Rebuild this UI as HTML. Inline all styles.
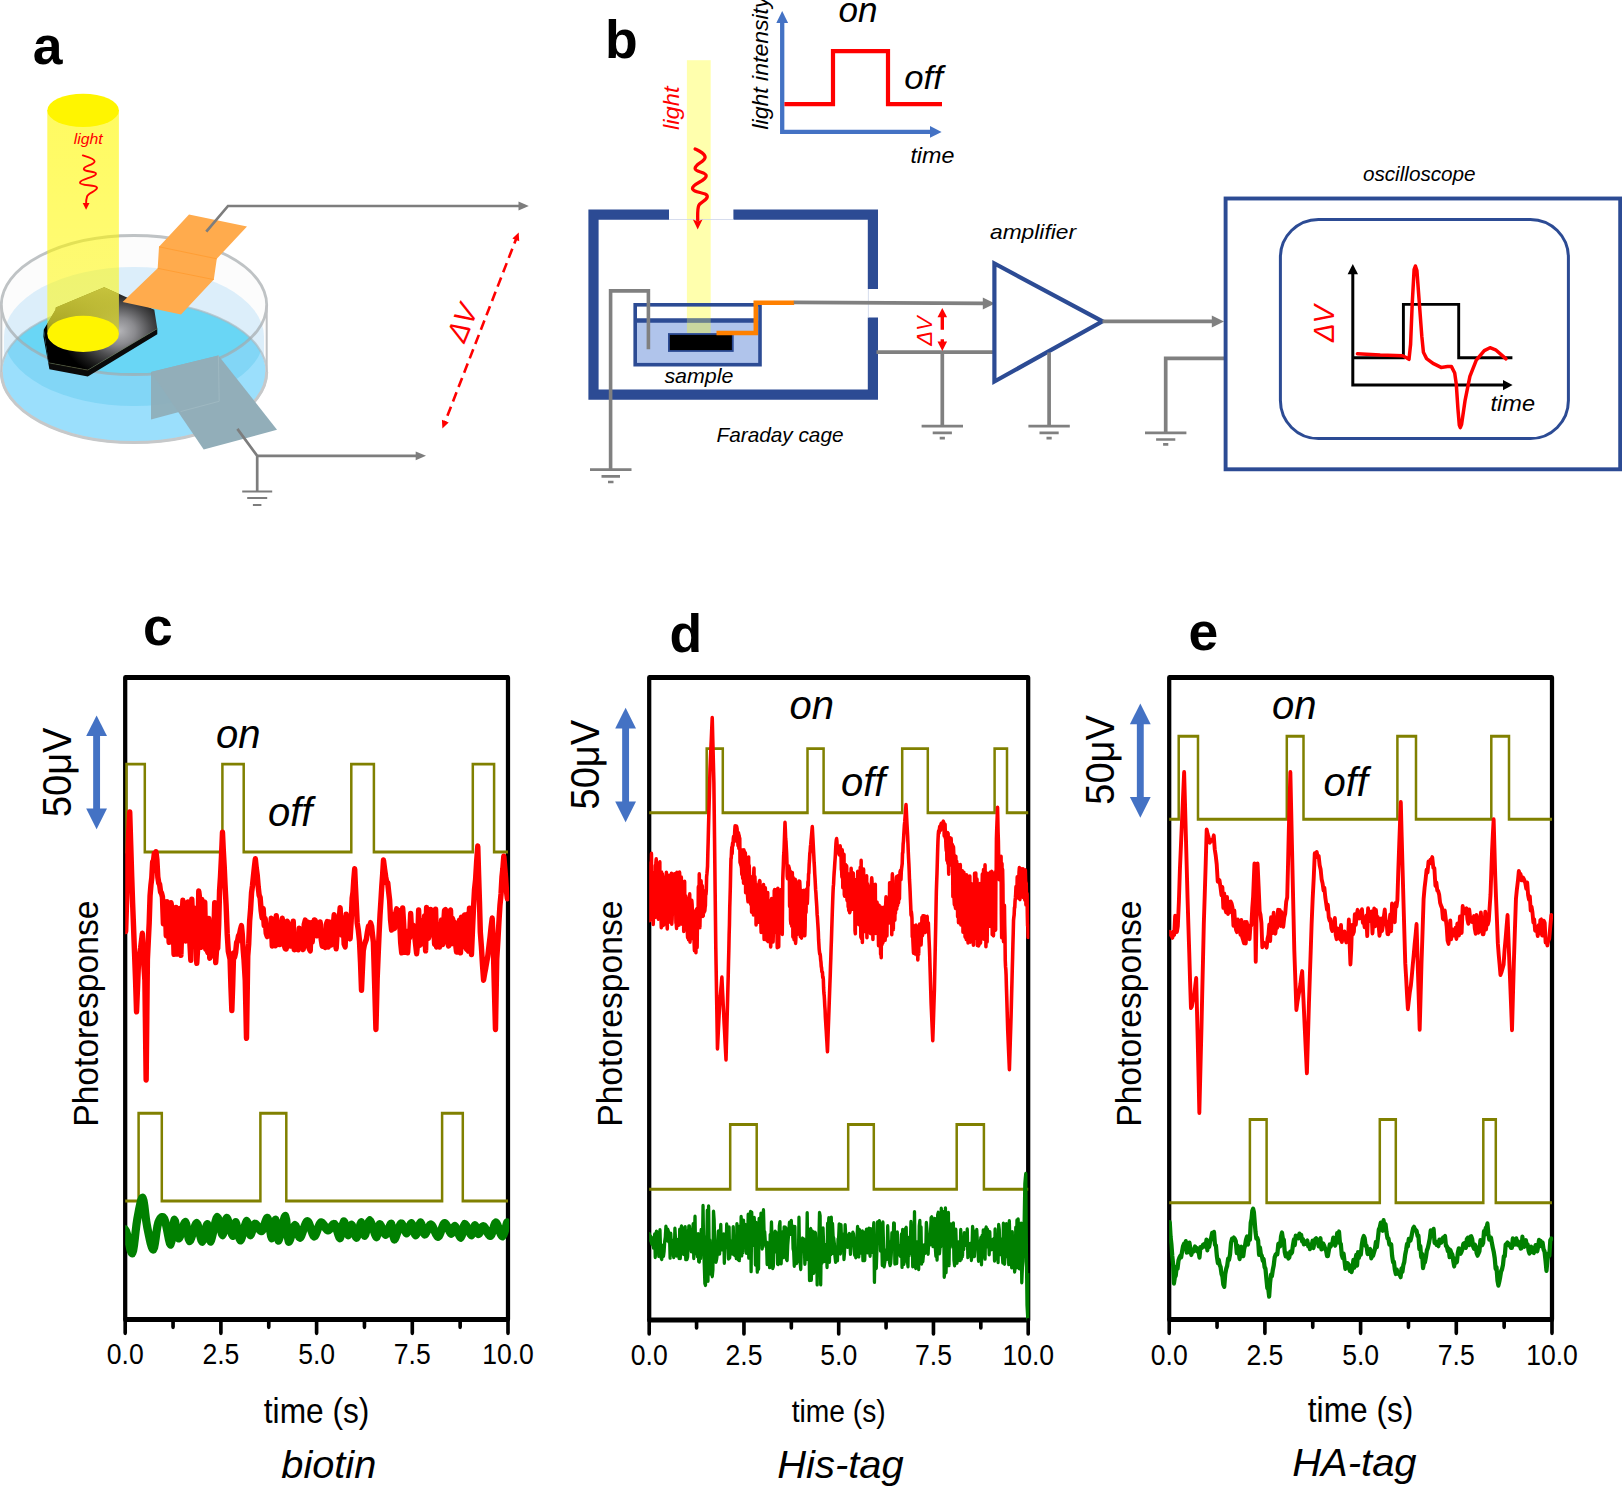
<!DOCTYPE html>
<html lang="en"><head><meta charset="utf-8"><title>Figure</title>
<style>html,body{margin:0;padding:0;background:#fff}svg{display:block}text{font-family:'Liberation Sans', sans-serif}</style></head><body>
<svg width="1622" height="1487" viewBox="0 0 1622 1487">
<rect width="1622" height="1487" fill="#fff"/>
<defs>
<clipPath id="cEt"><ellipse cx="134" cy="305" rx="132.7" ry="69.5"/></clipPath>
<clipPath id="cEb"><ellipse cx="134" cy="372" rx="132.7" ry="70.5"/></clipPath>
<clipPath id="cEl"><ellipse cx="134" cy="336.5" rx="130" ry="69.5"/></clipPath>
<radialGradient id="gNut" gradientUnits="userSpaceOnUse" cx="119" cy="331" r="58" gradientTransform="translate(119 331) scale(1 0.82) translate(-119 -331)"><stop offset="0" stop-color="#b4b4b8"/><stop offset="0.28" stop-color="#8a8a8e"/><stop offset="0.55" stop-color="#4c4c4e"/><stop offset="0.8" stop-color="#1d1d1d"/><stop offset="1" stop-color="#000"/></radialGradient>
<linearGradient id="gBeam" x1="0" y1="0" x2="0" y2="1"><stop offset="0" stop-color="#fff800" stop-opacity="0.62"/><stop offset="1" stop-color="#fff800" stop-opacity="0.52"/></linearGradient>
<clipPath id="cBeam"><rect x="47.3" y="280" width="71.6" height="54"/></clipPath>
<linearGradient id="gNutL" gradientUnits="userSpaceOnUse" x1="0" y1="287" x2="0" y2="345"><stop offset="0" stop-color="#8c8c8c" stop-opacity="0.95"/><stop offset="0.6" stop-color="#777" stop-opacity="0.7"/><stop offset="1" stop-color="#555" stop-opacity="0"/></linearGradient>
</defs>
<path d="M1.3 305 A132.7 69.5 0 0 1 266.7 305 V372 A132.7 70.5 0 0 1 1.3 372 Z" fill="#fcfcfc"/>
<path d="M4 336.5 A130 69.5 0 0 1 264 336.5 V372 A130 70.5 0 0 1 4 372 Z" fill="#dceefa"/>
<ellipse cx="134" cy="372" rx="131.7" ry="69.5" fill="#9bdffc"/>
<g clip-path="url(#cEb)"><ellipse cx="134" cy="336.5" rx="130" ry="69.5" fill="#82d6f6"/>
<g clip-path="url(#cEl)"><ellipse cx="134" cy="305" rx="132.7" ry="69.5" fill="#69d6f5"/></g></g>
<ellipse cx="134" cy="372" rx="132.7" ry="70.5" fill="none" stroke="#a9b9c0" stroke-opacity="0.7" stroke-width="2.2"/>
<path d="M1.3 372 A132.7 70.5 0 0 0 266.7 372" fill="none" stroke="#c6c8c9" stroke-width="3"/>
<ellipse cx="134" cy="305" rx="132.7" ry="69.5" fill="none" stroke="#a4a9ac" stroke-opacity="0.7" stroke-width="2.8"/>
<path d="M1.3 305V372 M266.7 305V372" stroke="#bfc1c3" stroke-width="2" fill="none"/>
<polygon points="43.4,336.5 49.4,369.3 87.8,376.6 157.3,334.3 157.3,328.7 87.8,370.1 48.6,362.8 43.8,329.6" fill="#0a0a0a"/>
<polygon points="43.8,329.6 55.5,309.7 55.8,307.6 104.2,287.3 154.3,309.7 157.3,328.7 87.8,370.1 48.6,362.8" fill="url(#gNut)"/>
<polyline points="157.3,328.7 87.8,370.1 48.6,362.8" fill="none" stroke="#6b6a3a" stroke-width="0.5"/>
<g clip-path="url(#cBeam)"><polygon points="43.8,329.6 55.5,309.7 55.8,307.6 104.2,287.3 154.3,309.7 157.3,328.7 87.8,370.1 48.6,362.8" fill="url(#gNutL)"/></g>
<polygon points="189,214.6 247,226.5 216.8,258.8 213.8,279.6 181,314.5 122.6,302 157.7,268.3 159,246.8" fill="#ffab4d"/>
<path d="M159 246.8L216.8 258.8M157.7 268.3L213.8 279.6" stroke="#ff9a2e" stroke-width="0.8" fill="none"/>
<rect x="47.3" y="110" width="71.6" height="224" fill="url(#gBeam)"/>
<ellipse cx="83.1" cy="110.4" rx="35.8" ry="16.7" fill="#fff500"/>
<ellipse cx="83.1" cy="333.9" rx="35.8" ry="18.1" fill="#fff500"/>
<polygon points="151,371.9 218.4,355.5 219.2,401.3 151,419.4" fill="#8fadb8" fill-opacity="0.93"/>
<polygon points="151,372 218.4,355.5 277,429.7 203.7,449.6" fill="#92aeb9"/>
<polyline points="218.4,355.5 219.2,401.3 180.5,411.6" fill="none" stroke="#a3bcc4" stroke-opacity="0.8" stroke-width="0.9"/>
<path d="M206.3 231.7L228 206H521" stroke="#7d7d7d" stroke-width="2.7" fill="none" stroke-linecap="butt" stroke-linejoin="miter"/>
<polygon points="528.8,206 518.5,201.6 518.5,210.4" fill="#7d7d7d"/>
<path d="M237.4 428.9L257.2 455.8H418 M257.2 455.8V491" stroke="#7d7d7d" stroke-width="2.7" fill="none" stroke-linecap="butt" stroke-linejoin="miter"/>
<polygon points="426,455.8 415.7,451.4 415.7,460.2" fill="#7d7d7d"/>
<path d="M242.2 491.5H272.2 M247.2 498H267.2 M252.9 505H261.4" stroke="#7d7d7d" stroke-width="2" fill="none"/>
<path d="M516.8 237.2L444.3 423.8" stroke="#ff0000" stroke-width="2.6" stroke-dasharray="9.8 5.6" stroke-dashoffset="3" fill="none"/>
<polygon points="518.7,232.4 519.2,241.2 512.4,238.6" fill="#ff0000"/>
<polygon points="442.4,428.6 441.9,419.8 448.7,422.4" fill="#ff0000"/>
<text transform="translate(464.4,343.9) rotate(-67.5)" font-size="29.5" text-anchor="start" fill="#ff0000" font-style="italic" textLength="37" lengthAdjust="spacingAndGlyphs">ΔV</text>
<text transform="translate(73.7,144.1)" font-size="14.5" text-anchor="start" fill="#ff0000" font-style="italic" textLength="29" lengthAdjust="spacingAndGlyphs">light</text>
<path d="M82.8 155.4C88 157 95 159 94.6 161.6C94 165 83.5 166 83.8 169.1C84 172 96.5 171 96 173.8C95.5 177.5 80 179 80 182.7C80 186 97.5 184.5 97 187.9C96.5 191.5 88.5 192.5 87.1 196.4C86.2 199 86.1 201 86.1 204" stroke="#ff0000" stroke-width="1.9" fill="none" stroke-linecap="round"/>
<polygon points="86.1,209.8 82.7,203 89.5,203" fill="#ff0000"/>
<text transform="translate(32.8,63.8)" font-size="53.5" text-anchor="start" fill="#000" font-weight="bold">a</text>
<text transform="translate(605.1,57.7)" font-size="53.5" text-anchor="start" fill="#000" font-weight="bold">b</text>
<rect x="686.9" y="60.2" width="23.8" height="244" fill="#ffff00" fill-opacity="0.32"/>
<path d="M669 214.6H593.5V394.6H872.9V317.5 M872.9 289V214.6H733.4" stroke="#2c4b94" stroke-width="10.2" fill="none"/>
<path d="M669 219.5H733.4 M868.4 289V317.5" stroke="#cdd4e8" stroke-width="0.8" fill="none"/>
<rect x="635.2" y="304.8" width="124.8" height="59.9" fill="#fff"/>
<rect x="635.2" y="320.5" width="124.8" height="44.2" fill="#b0c4eb"/>
<rect x="686.9" y="304" width="23.8" height="29.5" fill="#ffff00" fill-opacity="0.32"/>
<path d="M635.2 320.5H755" stroke="#2c4b94" stroke-width="4.5"/>
<rect x="686.9" y="318.25" width="23.8" height="4.5" fill="#ffff80" fill-opacity="0.3"/>
<rect x="635.2" y="304.8" width="124.8" height="59.9" fill="none" stroke="#2c4b94" stroke-width="3.6"/>
<rect x="668.9" y="334" width="63.9" height="17" fill="#000" stroke="#2c4b94" stroke-width="1.8"/>
<path d="M648.4 349.3V290.9H610.6V469.4" stroke="#808080" stroke-width="3.6" fill="none" stroke-linecap="butt"/>
<path d="M590 469.6H631.5 M601.5 476.4H620 M608 482H613.5" stroke="#808080" stroke-width="2.6" fill="none"/>
<path d="M716.5 333H755.8V302.8 M753.5 302.8H794.2" stroke="#ff8000" stroke-width="4.5" fill="none"/>
<path d="M793.8 302.4L984 303.3" stroke="#808080" stroke-width="3.7" fill="none"/>
<polygon points="995,303.4 982.8,297.4 982.8,309.4" fill="#808080"/>
<path d="M876.5 352.2H994 M942.3 352.2V426" stroke="#808080" stroke-width="3.7" fill="none"/>
<path d="M921.6 426.1H963 M932.7 432.8H951.9 M939.7 438.1H944.9" stroke="#808080" stroke-width="2.7" fill="none"/>
<path d="M942.3 316V329.7 M942.3 339.2V343" stroke="#ff0000" stroke-width="3.4" fill="none"/>
<polygon points="942.3,308 937.5,317.3 947.1,317.3" fill="#ff0000"/>
<polygon points="942.3,351 937.5,341.6 947.1,341.6" fill="#ff0000"/>
<text transform="translate(932.2,331) rotate(-90)" font-size="22" text-anchor="middle" fill="#ff0000" font-style="italic" textLength="29.4" lengthAdjust="spacingAndGlyphs">ΔV</text>
<text transform="translate(664.4,383.1)" font-size="21" text-anchor="start" fill="#000" font-style="italic" textLength="69" lengthAdjust="spacingAndGlyphs">sample</text>
<text transform="translate(716.5,442.3)" font-size="21" text-anchor="start" fill="#000" font-style="italic" textLength="127" lengthAdjust="spacingAndGlyphs">Faraday cage</text>
<text transform="translate(678.5,130) rotate(-90)" font-size="22" text-anchor="start" fill="#ff0000" font-style="italic" textLength="43.5" lengthAdjust="spacingAndGlyphs">light</text>
<path d="M695.1 148.9C699.5 151 705.3 153.5 705.1 157.4C704.8 162 695 164 695.1 168.5C695.2 172.5 706.3 171.5 706.2 175.9C706 181 692.6 183.5 692.5 188.4C692.5 193 707.5 192 707.3 196.6C707.1 200.5 700.5 201.5 698.8 205.4C697.3 209 697.7 214 697.7 220" stroke="#ff0000" stroke-width="3.3" fill="none" stroke-linecap="round"/>
<polygon points="697.7,229.6 692.9,219.6 697.7,221.4 702.5,219.6" fill="#ff0000"/>
<path d="M782.2 21V131.9H932" stroke="#4472c4" stroke-width="4.3" fill="none"/>
<polygon points="782.2,11 776.3,22.9 788.1,22.9" fill="#4472c4"/>
<polygon points="941.6,131.9 930,126 930,137.8" fill="#4472c4"/>
<path d="M784.4 104.2H833V51.2H888V104.2H942" stroke="#ff0000" stroke-width="4.2" fill="none"/>
<text transform="translate(838.6,21.9)" font-size="35" text-anchor="start" fill="#000" font-style="italic" textLength="39" lengthAdjust="spacingAndGlyphs">on</text>
<text transform="translate(904.3,88.5)" font-size="34" text-anchor="start" fill="#000" font-style="italic" textLength="38.6" lengthAdjust="spacingAndGlyphs">off</text>
<text transform="translate(910.4,163.4)" font-size="21.5" text-anchor="start" fill="#000" font-style="italic" textLength="44" lengthAdjust="spacingAndGlyphs">time</text>
<text transform="translate(767.5,129.5) rotate(-90)" font-size="21.5" text-anchor="start" fill="#000" font-style="italic" textLength="133" lengthAdjust="spacingAndGlyphs">light intensity</text>
<polygon points="994.4,263.5 994.4,381.5 1102.5,321.4" fill="#fff" stroke="#2c4b94" stroke-width="4.2" stroke-linejoin="miter"/>
<text transform="translate(990,239)" font-size="21" text-anchor="start" fill="#000" font-style="italic" textLength="86" lengthAdjust="spacingAndGlyphs">amplifier</text>
<path d="M1102.5 321.4H1214" stroke="#808080" stroke-width="3.7" fill="none"/>
<polygon points="1224,321.4 1211.8,315.4 1211.8,327.4" fill="#808080"/>
<path d="M1049.1 352.5V426" stroke="#808080" stroke-width="3.7" fill="none"/>
<path d="M1028.4 426.1H1069.8 M1039.5 432.8H1058.7 M1046.5 438.1H1051.7" stroke="#808080" stroke-width="2.7" fill="none"/>
<path d="M1225 358.3H1165.7V432.7" stroke="#808080" stroke-width="3.7" fill="none"/>
<path d="M1145 432.8H1186.4 M1156.1 439.5H1175.3 M1163.1 444.4H1168.3" stroke="#808080" stroke-width="2.7" fill="none"/>
<rect x="1225.6" y="198.5" width="394.6" height="270.8" fill="#fff" stroke="#2c4b94" stroke-width="3.9"/>
<rect x="1280.4" y="219.4" width="288" height="219.2" rx="38" ry="38" fill="#fff" stroke="#2c4b94" stroke-width="3"/>
<text transform="translate(1362.9,181.2)" font-size="21" text-anchor="start" fill="#000" font-style="italic" textLength="112.7" lengthAdjust="spacingAndGlyphs">oscilloscope</text>
<path d="M1352.8 273V385.1H1504" stroke="#000" stroke-width="3" fill="none"/>
<polygon points="1352.8,264 1347.6,274.2 1358,274.2" fill="#000"/>
<polygon points="1512.6,385.1 1503,379.9 1503,390.3" fill="#000"/>
<path d="M1352.8 357.8H1403.4V304.4H1458.7V357.8H1512.4" stroke="#000" stroke-width="2.9" fill="none"/>
<polyline points="1357.4,353.8 1380.2,355.1 1402.6,355.7 1406.6,357.8 1409,359.4 1410.6,344.2 1412.2,304.1 1414.1,269.7 1415.4,266 1416.9,270.5 1419.4,304.1 1421.8,336.2 1423.4,352.2 1426.6,358.6 1433,363.4 1441.1,367.4 1447.5,366.6 1451.5,366.6 1454.7,373 1456.3,384.3 1457.9,408.3 1459.3,425.1 1460.3,427.6 1461.6,424.3 1465.1,400.3 1469.9,376.3 1476.3,360.2 1484.3,350.6 1490,347.7 1495.6,349.8 1502,355.4 1506,358.9" fill="none" stroke="#ff0000" stroke-width="3.5" stroke-linejoin="round" stroke-linecap="round"/>
<text transform="translate(1333.5,323.5) rotate(-90)" font-size="29" text-anchor="middle" fill="#ff0000" font-style="italic" textLength="37" lengthAdjust="spacingAndGlyphs">ΔV</text>
<text transform="translate(1490.5,410.8)" font-size="21.5" text-anchor="start" fill="#000" font-style="italic" textLength="44.5" lengthAdjust="spacingAndGlyphs">time</text>
<defs><clipPath id="clc"><rect x="147.29" y="677.5" width="451.76" height="642.9"/></clipPath></defs>
<g transform="scale(0.85,1)">
<rect x="147.29" y="677.5" width="450.35" height="641.9" fill="none" stroke="#000" stroke-width="5" stroke-linejoin="round"/>
<path d="M147.29 852H148.82V764.1H170.35V852H261.65V764.1H286.71V852H413.29V764.1H439.88V852H556.24V764.1H581.29V852H597.65" stroke="#808000" stroke-width="2.95" fill="none" stroke-linejoin="miter"/>
<path d="M147.29 1201H163.06V1113.3H190.35V1201H306.35V1113.3H336.82V1201H520.12V1113.3H544.47V1201H597.65" stroke="#808000" stroke-width="2.95" fill="none" stroke-linejoin="miter"/>
<polyline clip-path="url(#clc)" points="147.85,931 149.04,897.6 150.23,856 151.42,832.6 152.61,812.4 153.8,844.9 154.99,877.4 156.03,903.4 157.07,925.8 158.26,952.6 159.45,979.7 160.64,1011.3 161.83,986.5 163.02,960.3 164.5,953.6 165.49,947.7 166.48,940.6 167.48,933.7 168.37,950 169.26,965.2 170.45,980.2 171.94,1079.5 173.42,959.6 174.46,941.3 175.51,923.1 176.55,895.7 177.59,884.9 178.58,877.8 179.57,862.1 180.56,861.1 181.55,853.7 182.54,860.8 183.53,852.3 184.6,860 185.68,877.1 186.75,882.9 187.82,884.7 188.89,891.8 190,893.2 191.12,897 192.23,923.3 193.35,903.8 194.46,902.8 195.58,935.2 196.69,902.1 197.81,908.7 198.96,941.9 200.12,913 201.28,903.3 202.43,910.6 203.59,917.7 204.75,953.9 205.9,934.1 207.06,908 208.22,953.6 209.37,911.7 210.53,946 211.69,909 212.84,954.9 214,923.1 215.16,900.8 216.31,911.8 217.47,913 218.62,940.5 219.8,908.3 220.97,902.4 222.14,937.5 223.31,941.6 224.48,959.9 225.65,899.6 226.83,925.9 228,908.4 229.17,938.3 230.34,919.7 231.51,962.8 232.68,946.3 233.85,891.4 235.03,899.8 236.2,946.8 237.37,900 238.54,928.9 239.71,916.8 240.88,902.8 242.05,948.7 243.23,948.7 244.4,951.9 245.57,918.9 246.74,957.7 247.91,923.3 249.08,955.6 250.25,941.3 251.43,938.3 252.6,903.2 253.77,962.1 254.94,947.6 256.11,948 257.28,924.9 258.32,890.4 259.37,876.9 260.55,856.7 261.74,832.6 262.74,850.9 263.73,865.7 264.72,884.1 266.01,905.2 267.3,933.7 268.58,951.1 269.62,955.1 270.67,959.1 271.71,987.4 272.75,1010 273.79,984 274.83,953.5 276.02,957 277.21,952.4 278.35,942.8 279.49,941 280.63,935.8 281.77,934.5 282.91,929.6 284.05,926.1 285.04,934.4 286.03,948.9 287.02,959.1 288.51,980.2 290,1037.8 291.48,955.9 292.6,943.7 293.71,920.7 294.83,909.1 295.94,892.7 297.06,885.4 298.17,876.1 299.29,867.1 300.4,859.1 301.52,868.3 302.63,875.2 303.75,886.7 304.86,895.2 306.05,897.6 307.24,910.7 308.43,917.6 309.62,908.8 310.81,925 312,918.9 313.19,933.1 314.38,936.1 315.57,930.7 316.76,934 317.95,933.1 319.14,918.6 320.33,945.6 321.52,932.8 322.71,923.7 323.88,945.4 325.05,916.3 326.23,934.7 327.4,930.4 328.58,944.1 329.75,943.8 330.92,924.8 332.1,918.7 333.27,933.4 334.45,945.2 335.62,948.3 336.79,948.5 337.97,921.6 339.14,923.9 340.31,938.9 341.49,945.5 342.66,924.9 343.84,945.6 345.01,921.8 346.18,949.2 347.36,936.7 348.53,935.2 349.71,941 350.88,949.3 352.05,928.7 353.23,936.6 354.4,941.2 355.57,935.7 356.75,949.1 357.92,924.7 359.1,920.6 360.27,945.2 361.44,932.4 362.62,922.7 363.79,948.4 364.97,950.5 366.14,923.1 367.31,941.6 368.49,928 369.66,920.4 370.83,920.8 372.01,924.4 373.18,935.4 374.36,928.2 375.53,935.2 376.7,922.5 377.88,939.3 379.05,945.8 380.23,945.9 381.4,942.4 382.57,947.1 383.75,925.2 384.92,922 386.09,946.5 387.27,922.4 388.44,922.9 389.62,944.6 390.79,943.3 391.96,927.4 393.14,915.2 394.31,939.6 395.49,948.3 396.66,932.2 397.83,931.9 399.01,919.5 400.18,908.2 401.35,934.2 402.53,934.8 403.7,918.9 404.88,944 406.05,946.5 407.22,914.8 408.4,928.4 409.57,922.9 410.75,931.6 411.92,938.4 413.11,921.3 414.3,898.3 415.29,892.2 416.28,879 417.27,869.2 418.26,887.8 419.25,905.5 420.25,923 421.58,930.3 422.92,941 424.11,962.1 425.3,989.8 426.34,969.8 427.38,950.5 428.57,945.2 429.76,942.1 431,939.3 432.24,932.1 433.48,926.4 434.72,931.1 435.96,923.1 437.2,926.6 438.24,935 439.28,942.3 440.76,984.1 442.25,1029 443.74,978.9 444.85,955.8 445.97,934.2 447.08,915 448.2,899.9 449.19,886 450.18,874.2 451.17,860.4 452.46,869.2 453.75,876.9 455.04,882.8 456.15,883 457.27,892.2 458.38,900.2 459.5,920 460.69,929.6 461.88,920.4 463.07,914.9 464.26,928 465.45,913.8 466.64,909.3 467.83,913.6 469.02,910.9 470.21,921.2 471.39,942.6 472.57,952.4 473.74,908.4 474.91,924.3 476.09,951.9 477.26,931.4 478.43,941.7 479.6,952.2 480.78,936.1 481.95,937.2 483.12,913.9 484.29,931.9 485.47,925.4 486.64,926.2 487.81,935.2 488.99,944.5 490.16,953.3 491.33,942.6 492.5,910.5 493.68,944.9 494.85,921.3 496.02,940.6 497.2,936 498.37,943.7 499.54,916.4 500.71,950.4 501.89,907.9 503.06,917.4 504.23,937.8 505.4,933.4 506.58,909.9 507.75,934 508.92,922.4 510.1,915 511.27,943.7 512.44,909.6 513.61,946.5 514.79,944.8 515.96,925.3 517.13,946.6 518.3,939.8 519.48,920.4 520.65,944 521.82,925.6 523,910.8 524.17,910.1 525.34,935.4 526.51,941.5 527.69,945.5 528.86,915.7 530.03,910.4 531.21,943.4 532.38,918.9 533.55,922.4 534.72,922.8 535.9,942.9 537.07,951.6 538.24,951.5 539.41,947 540.59,920.7 541.76,952.4 542.93,917.7 544.11,923.1 545.28,924.6 546.45,915.5 547.62,947 548.8,948.7 549.97,914.8 551.14,950.6 552.31,908.8 553.49,935 554.66,954 555.85,930.6 557.04,908 558.23,890 559.52,879.6 560.81,861 562.09,846.5 563.09,875.4 564.08,901.5 565.07,932 566.36,946.8 567.65,965 568.93,979.7 570.2,973.3 571.46,967.7 572.73,961.3 573.99,955.4 575.25,946.1 576.52,937.3 577.78,927 579.04,918.5 580.23,940.8 581.42,982.1 582.91,1029 584.4,959.1 585.66,942.1 586.93,922.6 588.19,905.3 589.45,894 590.54,877.1 591.63,868.5 592.72,856.6 593.77,867.1 594.81,877.7 595.85,891 596.89,898.3" fill="none" stroke="#ff0000" stroke-width="6.4" stroke-linejoin="round" stroke-linecap="round"/>
<polyline clip-path="url(#clc)" points="144.08,1230.4 144.79,1230.2 145.8,1229.7 147.04,1229.9 148.43,1231.7 149.33,1234.1 150.33,1237.8 151.41,1242.1 152.52,1246.4 153.63,1250 154.7,1252.3 155.68,1252.6 156.73,1250.1 157.7,1245.1 158.64,1238.6 159.56,1231.5 160.5,1224.8 161.48,1219.3 162.53,1214.5 163.61,1209.6 164.71,1205 165.8,1201.2 166.86,1198.9 167.87,1198.4 168.95,1201 169.94,1206.4 170.91,1213.5 171.93,1220.7 173.09,1226.7 174.03,1230.6 175.06,1234.9 176.13,1239.2 177.23,1243.1 178.32,1246.3 179.36,1248.3 180.34,1248.9 181.38,1247.1 182.33,1243 183.24,1237.6 184.16,1231.8 185.11,1226.6 186.14,1223 187.1,1221.1 188.11,1219.5 189.15,1218.4 190.21,1217.8 191.28,1217.7 192.35,1218.2 193.4,1219.3 194.46,1221.8 195.55,1225.7 196.65,1230.4 197.74,1235.3 198.78,1239.6 199.76,1242.7 200.65,1244 201.94,1240.5 203,1232.6 204,1224.5 205.09,1220.4 206.04,1221.8 206.98,1226 207.97,1231.2 209.05,1235.7 210.27,1237.8 211.15,1237.2 212.12,1235.5 213.15,1233 214.22,1230.2 215.28,1227.3 216.31,1224.8 217.27,1223.2 218.13,1222.6 219.24,1224.6 220.14,1229.1 220.97,1234.3 221.88,1238.6 223.04,1240.5 223.93,1239.8 224.93,1238 226.01,1235.3 227.13,1232.2 228.26,1229 229.37,1226.3 230.43,1224.4 231.41,1223.7 232.59,1225 233.71,1228.2 234.76,1232.4 235.79,1236.5 236.8,1239.7 237.83,1241.1 238.89,1239.9 239.97,1236.9 241.04,1233 242.07,1229 243.04,1225.9 243.92,1224.7 244.93,1227.4 245.71,1233.3 246.54,1238.9 247.71,1241 248.5,1239.7 249.41,1237 250.4,1233.4 251.44,1229.3 252.5,1225.3 253.55,1221.7 254.55,1219 255.48,1217.8 256.64,1218.6 257.75,1221.6 258.82,1225.7 259.85,1229.9 260.85,1233.2 261.81,1234.6 262.86,1232.9 263.8,1228.9 264.71,1224.1 265.68,1220.1 266.79,1218.5 267.71,1219.4 268.74,1221.8 269.83,1224.9 270.93,1228.4 271.99,1231.7 272.96,1234.1 273.8,1235.3 275.18,1232.2 276.18,1225.8 277.39,1222.7 278.33,1224.8 279.36,1229.1 280.46,1234.1 281.64,1238.1 282.88,1239.8 283.86,1238.8 284.92,1236.3 286.04,1232.8 287.17,1229.1 288.26,1225.5 289.28,1222.9 290.19,1221.6 291.46,1223.2 292.5,1227.6 293.47,1232.3 294.55,1234.6 295.49,1233.8 296.44,1231.4 297.44,1228.4 298.54,1225.8 299.78,1224.4 300.67,1224.5 301.64,1225.2 302.67,1226.2 303.74,1227.5 304.83,1228.8 305.9,1229.8 306.94,1230.4 307.91,1230.4 308.98,1229.4 310.03,1227.4 311.06,1224.9 312.06,1222.4 313.02,1220.1 313.94,1218.7 314.82,1218.5 315.94,1220.9 316.96,1225.7 317.92,1231.1 318.84,1235.7 319.76,1237.7 320.9,1235 322.01,1228.9 323.07,1222.9 324.08,1220.3 325.16,1225.7 326.14,1235.2 327.62,1240 328.43,1238.8 329.4,1236 330.47,1232.3 331.6,1228 332.73,1223.8 333.81,1220.1 334.79,1217.5 335.63,1216.6 336.83,1220.3 337.65,1228.4 338.46,1236.7 339.59,1241.2 340.48,1240.8 341.48,1238.9 342.56,1235.9 343.69,1232.5 344.82,1229.3 345.91,1226.8 346.92,1225.7 347.97,1226.4 348.94,1228.5 349.87,1231.4 350.83,1234.3 351.85,1236.5 352.99,1237.1 353.84,1236.5 354.74,1235 355.68,1232.9 356.66,1230.5 357.66,1228 358.66,1225.7 359.65,1223.7 360.63,1222.3 361.58,1221.8 362.61,1222.3 363.64,1223.8 364.66,1226 365.67,1228.6 366.67,1231.2 367.67,1233.5 368.66,1235.1 369.64,1235.8 370.62,1235.4 371.58,1234.1 372.53,1232.2 373.48,1229.9 374.43,1227.6 375.39,1225.6 376.36,1224 377.35,1223.1 378.37,1223.1 379.41,1223.7 380.47,1224.7 381.53,1225.9 382.6,1227.2 383.66,1228.4 384.71,1229.3 385.74,1229.7 386.76,1229.5 387.78,1228.8 388.8,1227.9 389.81,1226.8 390.81,1225.8 391.78,1225 392.73,1224.6 393.64,1224.8 394.82,1226.2 395.96,1228.8 397.06,1231.9 398.12,1234.8 399.11,1236.9 400.05,1237.6 401.26,1235 402.3,1229.8 403.31,1224.6 404.41,1222 405.41,1223 406.48,1226 407.57,1229.8 408.62,1233 409.59,1234.6 410.61,1233.3 411.5,1230 412.42,1226.6 413.52,1225.3 414.41,1226.3 415.39,1228.6 416.43,1231.5 417.49,1234.3 418.53,1236.4 419.52,1237.1 420.67,1235.5 421.8,1232 422.91,1227.9 423.96,1224.5 424.96,1222.9 426.03,1224.7 426.97,1229 427.92,1233.3 429.05,1235.1 429.91,1234 430.83,1231.3 431.79,1227.9 432.81,1224.6 433.89,1222.1 435.02,1221.1 435.95,1221.9 436.96,1223.6 438.04,1226 439.13,1228.8 440.2,1231.6 441.22,1234.1 442.15,1235.9 442.94,1236.7 444.32,1234 445.22,1228.3 446.54,1224.8 447.39,1225.2 448.37,1226.5 449.44,1228.3 450.56,1230.4 451.69,1232.2 452.79,1233.6 453.82,1234.1 454.99,1233.3 456.16,1231.4 457.31,1228.9 458.41,1226.5 459.43,1224.8 460.34,1224.3 461.6,1228.5 462.53,1235.3 463.93,1238.9 464.7,1238.3 465.6,1236.7 466.57,1234.5 467.61,1231.9 468.66,1229.3 469.72,1226.9 470.74,1225.1 471.69,1224.1 472.72,1224.3 473.74,1225.4 474.73,1227.1 475.71,1229 476.66,1230.8 477.58,1232.2 478.48,1232.7 479.67,1231.7 480.8,1229.4 481.88,1226.8 482.94,1224.6 484,1223.8 485.04,1225.1 486.05,1227.9 487.05,1231.1 488.06,1233.7 489.11,1234.7 490.21,1233.5 491.35,1230.6 492.5,1227.2 493.63,1224.3 494.71,1223 495.7,1224.1 496.6,1226.7 497.5,1229.9 498.47,1232.6 499.6,1233.9 500.51,1233.5 501.5,1232.2 502.54,1230.5 503.62,1228.5 504.73,1226.8 505.86,1225.5 507,1225.1 507.91,1225.6 508.84,1226.7 509.8,1228.2 510.78,1230 511.76,1231.8 512.73,1233.5 513.69,1234.9 514.63,1235.9 515.53,1236.2 516.64,1235.4 517.71,1233.7 518.74,1231.3 519.76,1228.7 520.79,1226.3 521.82,1224.5 522.89,1223.7 523.88,1223.9 524.92,1224.9 525.98,1226.3 527.04,1228.1 528.08,1229.8 529.07,1231.4 529.98,1232.6 530.8,1233.2 532.06,1232.3 532.99,1229.9 533.89,1227.5 535.08,1226.6 535.97,1227.4 536.98,1229 538.07,1231.1 539.18,1233.3 540.27,1235.3 541.29,1236.6 542.19,1237.1 543.42,1235.1 544.38,1230.9 545.37,1226.8 546.68,1224.7 547.53,1225 548.51,1226 549.58,1227.6 550.69,1229.4 551.79,1231.3 552.84,1232.9 553.81,1234.1 554.64,1234.6 555.91,1233.3 556.86,1230.3 557.71,1227.3 558.64,1225.8 559.68,1226.9 560.72,1229.5 561.81,1232.1 563,1233.4 563.84,1232.9 564.7,1231.7 565.59,1230 566.54,1228.4 567.57,1227.2 568.69,1226.8 569.62,1227.2 570.65,1228.3 571.73,1229.8 572.85,1231.4 573.98,1233 575.08,1234.3 576.12,1235.1 577.09,1235.3 578.24,1234.2 579.28,1231.9 580.26,1229 581.23,1226.1 582.23,1224 583.33,1223.1 584.23,1223.7 585.18,1225.1 586.16,1227.2 587.16,1229.5 588.16,1231.8 589.13,1233.8 590.06,1235.2 590.92,1235.7 592.25,1234.6 593.56,1231.9 594.76,1228.4 595.76,1225.2 596.49,1223.1" fill="none" stroke="#008000" stroke-width="9.6" stroke-linejoin="round" stroke-linecap="round"/>
</g>
<g transform="scale(0.85,1)">
<path d="M147.29 1319.4V1333M203.59 1319.4V1327M259.88 1319.4V1333M316.18 1319.4V1327M372.47 1319.4V1333M428.76 1319.4V1327M485.06 1319.4V1333M541.35 1319.4V1327M597.65 1319.4V1333" stroke="#000" stroke-width="4.3" fill="none" stroke-linecap="round"/>
</g>
<text transform="translate(125.2,1364.4) scale(0.900,1)" font-size="29.5" text-anchor="middle" fill="#000">0.0</text>
<text transform="translate(220.9,1364.4) scale(0.900,1)" font-size="29.5" text-anchor="middle" fill="#000">2.5</text>
<text transform="translate(316.6,1364.4) scale(0.900,1)" font-size="29.5" text-anchor="middle" fill="#000">5.0</text>
<text transform="translate(412.3,1364.4) scale(0.900,1)" font-size="29.5" text-anchor="middle" fill="#000">7.5</text>
<text transform="translate(508,1364.4) scale(0.900,1)" font-size="29.5" text-anchor="middle" fill="#000">10.0</text>
<text transform="translate(316.6,1423.2) scale(0.885,1)" font-size="35.8" text-anchor="middle" fill="#000">time (s)</text>
<text transform="translate(281.3,1477.8)" font-size="38.5" text-anchor="start" fill="#000" font-style="italic" textLength="95" lengthAdjust="spacingAndGlyphs">biotin</text>
<text transform="translate(143,645)" font-size="53.5" text-anchor="start" fill="#000" font-weight="bold">c</text>
<text transform="translate(98.4,1013.7) rotate(-90) scale(0.934,1)" font-size="36" text-anchor="middle" fill="#000">Photoresponse</text>
<text transform="translate(70.7,772.3) rotate(-90) scale(0.950,1)" font-size="40" text-anchor="middle" fill="#000">50μV</text>
<path d="M96.6 733.4V811.2" stroke="#4472c4" stroke-width="6.9" fill="none"/>
<polygon points="96.6,715.4 86.2,736 107,736" fill="#4472c4"/>
<polygon points="96.6,829.2 86.2,808.6 107,808.6" fill="#4472c4"/>
<text transform="translate(216,748.1)" font-size="40" text-anchor="start" fill="#000" font-style="italic">on</text>
<text transform="translate(268,825.7)" font-size="40" text-anchor="start" fill="#000" font-style="italic">off</text>
<defs><clipPath id="cld"><rect x="763.76" y="677.5" width="447.29" height="643.6"/></clipPath></defs>
<g transform="scale(0.85,1)">
<rect x="763.76" y="677.5" width="445.88" height="642.6" fill="none" stroke="#000" stroke-width="5" stroke-linejoin="round"/>
<path d="M763.76 812.7H831.41V748.6H850.35V812.7H950V748.6H968.94V812.7H1061.41V748.6H1091.53V812.7H1170.12V748.6H1184.71V812.7H1209.65" stroke="#808000" stroke-width="2.95" fill="none" stroke-linejoin="miter"/>
<path d="M763.76 1189.3H859.06V1124.5H890.24V1189.3H997.88V1124.5H1028V1189.3H1125.53V1124.5H1157.53V1189.3H1209.65" stroke="#808000" stroke-width="2.95" fill="none" stroke-linejoin="miter"/>
<polyline clip-path="url(#cld)" points="764.29,920.4 764.64,918.7 764.99,899.1 765.35,893.2 765.7,862.3 766.05,864.3 766.4,853.7 766.75,908.6 767.1,891.9 767.45,874.5 767.81,913.6 768.16,905.7 768.51,924.2 768.86,912.7 769.21,899.5 769.56,872.9 769.91,886.3 770.27,901.6 770.62,905.8 770.97,865.7 771.32,916.9 771.67,862.8 772.02,859.2 772.37,901.2 772.72,876.2 773.08,873.8 773.43,915.6 773.78,872.5 774.13,916.2 774.48,918.8 774.83,900 775.18,904.3 775.54,868.7 775.89,863.3 776.24,862.1 776.59,911.5 776.94,918.5 777.29,900.6 777.64,915.7 777.99,927.4 778.35,872.3 778.7,890.9 779.05,925.8 779.4,874.4 779.75,901 780.1,902.6 780.45,877.2 780.81,924.8 781.16,883.1 781.51,920.7 781.86,913.9 782.21,914.4 782.56,911.2 782.91,881.5 783.26,919.2 783.62,905.1 783.97,872.6 784.32,884.7 784.67,923 785.02,928.6 785.37,907 785.73,880.1 786.08,895.6 786.43,922.2 786.78,888.4 787.14,875.6 787.49,878.7 787.84,877.2 788.19,891.6 788.55,915.8 788.9,915.2 789.25,906.4 789.6,883.9 789.96,873.5 790.31,923.9 790.66,919.7 791.01,909.9 791.37,885.2 791.72,884.3 792.07,886.5 792.42,891.6 792.78,896.5 793.13,882 793.48,874.2 793.83,882.5 794.19,900.6 794.54,895.1 794.89,906.9 795.24,922.9 795.6,922.5 795.95,928.2 796.3,872.7 796.65,883.4 797.01,877.3 797.36,874.9 797.71,890.3 798.06,884.4 798.42,924.9 798.77,878.5 799.12,924.7 799.47,872.3 799.83,877.3 800.18,895.8 800.53,907 800.88,920.5 801.24,908.4 801.59,877.4 801.94,922.5 802.29,893.9 802.64,911.9 802.99,924.2 803.34,891.9 803.69,920.2 804.04,890.6 804.39,931.2 804.74,883.8 805.09,923.8 805.45,881.7 805.8,922.6 806.15,912.2 806.5,900.6 806.85,896.3 807.2,929.2 807.55,903.1 807.9,898.4 808.25,906.4 808.6,931.3 808.95,937.4 809.3,923.3 809.65,923.1 810,939.5 810.35,909.4 810.7,935.3 811.06,908 811.41,894.2 811.76,941.8 812.11,932.1 812.46,905.5 812.81,928.1 813.16,927.9 813.51,925.6 813.86,900.6 814.21,904.1 814.56,911.3 814.91,938.4 815.26,927.9 815.6,914.7 815.95,911.7 816.3,925.1 816.65,943.4 816.99,950.4 817.34,944.7 817.69,949.6 818.04,941.6 818.38,941.2 818.73,952.4 819.08,910.1 819.43,909.4 819.79,944.8 820.15,947.1 820.51,920.6 820.87,921.2 821.23,921.4 821.59,886.9 821.95,917.5 822.31,917.5 822.67,874.2 823.03,906.2 823.39,927.4 823.75,913.6 824.11,902.7 824.47,913.6 824.83,881 825.19,890.5 825.55,901.8 825.91,895.7 826.27,886.2 826.63,911.1 826.99,916.1 827.35,915.6 827.71,894.7 828.07,910.5 828.44,912 828.8,909.1 829.16,910.7 829.52,907.4 829.88,905.4 830.24,890.6 830.6,894.4 830.96,889.8 831.32,876.7 831.68,873.9 832.04,870.3 832.4,866.2 832.76,852.7 833.13,842 833.49,828.7 833.86,816.8 834.22,805.2 834.59,793.2 834.95,780.9 835.32,768.9 835.69,761.6 836.06,754.3 836.43,747.1 836.8,739.8 837.17,732.5 837.54,725.2 837.91,717.9 838.24,728.7 838.56,739.5 838.89,750.3 839.21,761.1 839.53,771.9 839.86,782.7 840.24,810.3 840.62,837.8 840.99,865.4 841.37,893 841.75,920.5 842.13,948.1 842.45,964.9 842.78,981.6 843.1,998.4 843.43,1015.2 843.75,1032 844.07,1048.7 844.45,1042.2 844.82,1035.7 845.19,1029.3 845.56,1022.6 845.93,1016.3 846.3,1010.2 846.67,1003.7 847.04,999 847.41,996.1 847.78,992.5 848.15,988.6 848.52,985.1 848.89,981.1 849.26,977.4 849.64,983.8 850.02,990.8 850.4,996.8 850.78,1004.1 851.16,1009.8 851.53,1016.5 851.9,1023.5 852.28,1028.9 852.65,1035.2 853.02,1041.5 853.39,1047.5 853.76,1053.6 854.13,1059.7 854.5,1047.7 854.87,1035.7 855.24,1023.8 855.61,1011.9 855.98,999.8 856.35,987.6 856.72,976.2 857.08,962.3 857.44,950.5 857.8,934.9 858.16,924.8 858.52,907.7 858.88,897.5 859.25,885.9 859.61,870.7 859.97,858.6 860.31,858 860.66,850.4 861,847.2 861.34,853.3 861.69,844.4 862.03,842.8 862.38,845.3 862.72,838.8 863.07,836.7 863.41,841.5 863.76,836.6 864.1,837 864.45,830.4 864.79,826.1 865.13,826.2 865.48,827.9 865.82,831.7 866.17,833 866.51,826.3 866.85,827.4 867.2,829.1 867.54,841.9 867.88,837.6 868.23,845.5 868.57,832.8 868.91,833.5 869.26,848.2 869.6,835.7 869.94,842.2 870.29,838.4 870.63,862.4 870.97,858.5 871.32,864.4 871.66,854.5 872.01,866.7 872.36,865.8 872.71,874.2 873.05,852.1 873.4,850.3 873.75,877.8 874.1,878.6 874.44,869.9 874.79,882.9 875.14,850 875.49,854.9 875.83,851.8 876.18,876.3 876.53,858.6 876.88,853.1 877.23,892.4 877.58,890 877.93,887.9 878.29,889.4 878.64,862.2 878.99,866.4 879.34,893.3 879.69,898.6 880.04,901.5 880.39,861.5 880.74,857.3 881.09,885.2 881.44,865.7 881.79,878.6 882.14,890.5 882.49,898.3 882.84,902.7 883.19,904.1 883.54,891 883.9,882.8 884.25,911.9 884.6,877.1 884.95,910.1 885.3,903.1 885.65,912.5 886,898.3 886.35,914.7 886.7,874.5 887.05,868.4 887.4,913 887.75,877.5 888.1,876.8 888.45,884.7 888.8,911.9 889.15,885.4 889.51,924.7 889.86,885.1 890.21,886.1 890.56,921 890.91,916.8 891.26,908.8 891.61,911.4 891.96,912.7 892.31,922 892.66,895.1 893.01,883.7 893.36,881.8 893.71,881 894.06,881.4 894.41,916.7 894.76,900 895.12,923.5 895.47,932.1 895.82,928.4 896.17,898.7 896.52,927.2 896.87,888.2 897.22,896.7 897.57,887.8 897.92,889.4 898.27,884.8 898.62,923.2 898.97,939.1 899.32,930.8 899.67,929 900.02,898.6 900.37,888.1 900.72,924.2 901.08,933.4 901.43,901 901.78,899.3 902.13,916 902.48,940.4 902.83,906.3 903.18,892.8 903.53,941.3 903.88,905.8 904.23,935.7 904.58,901 904.93,930.4 905.28,920 905.63,934 905.98,925.7 906.33,928.3 906.69,946.7 907.04,937.6 907.39,906.6 907.74,898.9 908.09,911.1 908.44,919.4 908.79,930.4 909.14,921.4 909.49,941.7 909.84,931.3 910.19,908.2 910.54,932.3 910.89,890.8 911.24,890 911.59,905.4 911.94,912.3 912.3,898.2 912.65,901.2 913,916 913.35,889.9 913.7,911.5 914.05,929.9 914.4,947.4 914.75,940.6 915.1,888.5 915.45,939.2 915.79,944.7 916.14,946.6 916.49,909.4 916.84,923.6 917.18,896.5 917.53,894.9 917.88,892.3 918.23,903.1 918.57,915.4 918.92,889.8 919.27,903.1 919.62,925.7 919.96,892 920.29,934.1 920.61,907.6 920.94,878.3 921.26,870.8 921.59,864.6 921.91,856 922.23,853 922.56,846.1 922.88,838 923.21,830.4 923.53,822.7 923.91,829.4 924.29,838.5 924.67,841.2 925.05,847.6 925.42,853.5 925.8,861.7 926.16,876.2 926.51,878.3 926.86,868.2 927.22,867.9 927.57,871 927.93,866.3 928.28,873.3 928.63,868.4 928.99,906.3 929.34,874.9 929.69,871.3 930.04,919.9 930.39,923.2 930.74,911.7 931.08,909.7 931.43,925.9 931.78,909.3 932.13,872.9 932.47,889.4 932.82,936.8 933.17,877.9 933.52,901.7 933.86,885 934.21,939.6 934.56,914.2 934.91,929.7 935.26,931.7 935.61,879.7 935.96,943.1 936.31,938.6 936.66,922.6 937.01,929.3 937.36,894.9 937.71,909.9 938.07,934.1 938.42,891.2 938.77,887.9 939.12,903.2 939.47,925 939.82,881.4 940.17,885.2 940.52,906.2 940.87,881.6 941.22,888.7 941.57,936.4 941.92,921 942.27,896.9 942.62,927.7 942.97,937.8 943.32,890.8 943.68,894.9 944.03,916.5 944.38,903 944.73,900.5 945.08,895 945.43,894.3 945.78,890.5 946.13,935.3 946.48,905.2 946.83,935.5 947.18,926.9 947.53,905.5 947.9,900.7 948.27,912.3 948.64,894.8 949.01,889.3 949.39,890.6 949.76,903.5 950.13,896 950.5,881.8 950.87,885.4 951.24,874.1 951.61,872.9 951.98,864.4 952.35,860.3 952.72,853.5 953.09,851.8 953.45,846.8 953.82,844.3 954.18,840.5 954.55,837.3 954.91,833.6 955.27,830.2 955.64,826.8 956,832.7 956.36,838.2 956.72,844.1 957.08,850.3 957.44,855.9 957.8,862.5 958.16,867 958.52,873.8 958.88,878.4 959.23,884.3 959.58,890 959.93,893.3 960.27,898.6 960.62,902.7 960.97,907.7 961.32,914.4 961.66,917.3 962.01,922.4 962.36,926.9 962.71,931.7 963.05,939.5 963.4,944.4 963.75,949.3 964.1,951.9 964.44,954.1 964.79,954 965.14,956 965.49,960.1 965.83,962 966.18,966.6 966.53,967.7 966.87,971.3 967.22,972.1 967.57,972.2 967.92,977.4 968.26,976.8 968.61,979.3 968.96,988 969.31,993.1 969.65,995.6 970,1000.1 970.35,1006.1 970.7,1010.1 971.04,1017.4 971.39,1021.9 971.74,1027.1 972.09,1031.3 972.43,1036.6 972.78,1041.3 973.13,1046.5 973.48,1051.5 973.84,1043.1 974.2,1034.6 974.56,1026.2 974.92,1017.9 975.28,1009.3 975.64,1000.7 976,992.2 976.36,983.7 976.72,976 977.08,966 977.44,957.9 977.8,947.7 978.16,939.6 978.52,929.6 978.88,920.1 979.24,910.7 979.6,902.1 979.96,893.7 980.32,886.9 980.67,884.2 981.02,877.5 981.38,872.5 981.73,868.6 982.09,863.5 982.44,859.4 982.79,855 983.15,849 983.5,843.5 983.86,840.3 984.21,838.9 984.56,841 984.91,846.3 985.26,846.4 985.61,849.8 985.96,850.4 986.31,851.6 986.67,846.9 987.02,853.5 987.37,854.5 987.72,852.5 988.07,850.7 988.42,846 988.77,848.4 989.11,854.2 989.46,856.3 989.81,869.5 990.16,870.4 990.5,876.8 990.85,850.1 991.2,860.6 991.55,887.5 991.89,874.1 992.24,879.4 992.59,856.5 992.94,854.5 993.29,894.3 993.64,895.9 993.99,874.6 994.34,877 994.69,864.9 995.04,878.6 995.39,887.9 995.74,888 996.09,866.2 996.44,899.5 996.79,900.6 997.14,880 997.49,891.3 997.84,906.7 998.2,900.9 998.55,910.2 998.9,881.3 999.25,874.1 999.6,912.5 999.95,911.6 1000.3,909.6 1000.65,893.2 1001,880.4 1001.35,868.5 1001.7,908.6 1002.05,888.3 1002.4,903.2 1002.75,909 1003.1,908.5 1003.45,873.1 1003.81,873.5 1004.16,882.8 1004.51,887.6 1004.86,889.9 1005.21,882.6 1005.56,887.4 1005.91,930.6 1006.27,933.4 1006.63,880.1 1006.99,882.7 1007.35,887 1007.71,913.2 1008.07,887.3 1008.43,882.4 1008.79,882.8 1009.15,871.6 1009.51,878.8 1009.87,882.1 1010.23,924.3 1010.59,875.7 1010.95,883.7 1011.31,883 1011.67,910.5 1012.03,867.6 1012.4,872.9 1012.76,937.1 1013.12,860.7 1013.48,938.3 1013.84,887.4 1014.2,898.6 1014.56,942.2 1014.92,901.8 1015.28,921.4 1015.64,929.1 1016,869.4 1016.36,906 1016.72,916.5 1017.08,876.2 1017.44,879.4 1017.8,904.5 1018.16,931.4 1018.52,929.1 1018.88,906.8 1019.23,898.5 1019.58,876.1 1019.93,937.4 1020.28,893.7 1020.63,884.1 1020.99,928.6 1021.34,909.7 1021.69,891.1 1022.04,919.1 1022.39,925 1022.74,910.8 1023.09,922.3 1023.44,932 1023.79,886.7 1024.14,933.3 1024.49,918.7 1024.84,894.3 1025.19,883.3 1025.54,878 1025.89,881.8 1026.24,925.6 1026.6,887.7 1026.95,939.2 1027.3,888.5 1027.65,884.8 1028,933 1028.35,889 1028.7,913.3 1029.05,893.4 1029.4,892.8 1029.75,884.5 1030.1,933.1 1030.45,906.4 1030.8,911.5 1031.15,931.3 1031.5,903 1031.85,902.5 1032.2,919.3 1032.55,925.8 1032.9,921.6 1033.24,929.6 1033.59,945.4 1033.94,924.9 1034.29,905.6 1034.63,910.2 1034.98,941.2 1035.33,924.5 1035.68,922.1 1036.02,954.2 1036.37,920.6 1036.72,957.5 1037.07,907.5 1037.42,923.6 1037.78,944.2 1038.13,920 1038.48,939.1 1038.83,942.2 1039.19,920.2 1039.54,908 1039.89,916.5 1040.24,907.3 1040.6,933.4 1040.95,913.8 1041.3,940 1041.65,934.3 1042.01,904.8 1042.36,897.1 1042.71,927.8 1043.06,926.5 1043.42,935.7 1043.77,903.6 1044.12,902.7 1044.47,910.3 1044.83,911.7 1045.19,921.6 1045.55,909.4 1045.91,909 1046.27,922.6 1046.63,883 1046.99,901.1 1047.35,888 1047.71,886.4 1048.07,892.7 1048.43,902.8 1048.79,884.3 1049.15,934.5 1049.51,883.5 1049.87,874.2 1050.23,927.6 1050.59,919.1 1050.95,929.4 1051.31,910.7 1051.67,917.6 1052.03,888.6 1052.39,889.1 1052.75,919.9 1053.12,902.4 1053.48,913.1 1053.84,893.3 1054.2,880.7 1054.56,877.2 1054.92,909 1055.28,888.3 1055.64,887.8 1056,905.1 1056.36,876 1056.72,901.6 1057.08,902.5 1057.44,884 1057.8,878 1058.16,898.7 1058.52,879.4 1058.88,871.9 1059.24,870.9 1059.6,871.7 1059.96,879.5 1060.32,871.9 1060.68,868.5 1061.04,866.2 1061.41,863.7 1061.78,853.2 1062.15,852.7 1062.53,843.9 1062.9,841.3 1063.27,835.2 1063.64,830 1064.02,824.7 1064.39,822 1064.77,817.4 1065.15,812.9 1065.53,809 1065.91,804.8 1066.29,811.1 1066.66,817.9 1067.04,824.3 1067.42,829.8 1067.8,836 1068.18,843.7 1068.54,851.5 1068.9,858.2 1069.26,863.6 1069.62,870.7 1069.98,879.5 1070.34,884.6 1070.7,891.2 1071.06,898.8 1071.42,905.6 1071.79,914.8 1072.16,911.9 1072.53,914.3 1072.9,918.5 1073.27,936.8 1073.64,929.9 1074.02,940.9 1074.38,947.2 1074.74,952.9 1075.1,926.4 1075.46,937.7 1075.82,938.7 1076.18,926.2 1076.54,950.8 1076.9,953.7 1077.26,948.4 1077.62,925.4 1077.98,932.4 1078.34,950.7 1078.7,929.4 1079.06,955.2 1079.42,933.9 1079.78,959.7 1080.14,943.3 1080.5,950.9 1080.85,954 1081.2,928.5 1081.54,930.5 1081.89,924.3 1082.24,943.4 1082.59,942.3 1082.93,931.3 1083.28,923.8 1083.63,944.6 1083.98,935.8 1084.32,926.6 1084.67,917.7 1085.02,924.4 1085.37,935.3 1085.73,916.2 1086.09,921 1086.45,916 1086.81,929.7 1087.17,921.1 1087.53,918 1087.89,916.3 1088.25,931.3 1088.61,932.1 1088.97,930.4 1089.33,927.9 1089.69,930 1090.05,922 1090.41,917 1090.77,916.8 1091.13,927.1 1091.49,926.4 1091.85,923.5 1092.18,923.1 1092.5,929.7 1092.83,936.5 1093.15,942.4 1093.47,948.4 1093.8,956.6 1094.12,966.3 1094.45,975.1 1094.77,984.6 1095.1,993.9 1095.42,1003.2 1095.74,1009.4 1096.07,1015.6 1096.39,1021.8 1096.72,1028 1097.04,1034.2 1097.37,1040.5 1097.69,1032 1098.02,1023.5 1098.34,1015 1098.66,1006.5 1098.99,998 1099.31,989.5 1099.69,973.2 1100.07,957.5 1100.45,941.1 1100.83,925.8 1101.2,908.5 1101.58,891.8 1101.96,882.2 1102.34,873.6 1102.72,862.3 1103.1,850.7 1103.47,841.4 1103.85,834.8 1104.2,831.2 1104.54,833 1104.89,832.7 1105.24,828.5 1105.58,826.6 1105.93,827.8 1106.27,830.3 1106.62,829.7 1106.97,824.4 1107.31,823.7 1107.66,826.4 1108,825.8 1108.35,825.2 1108.7,824.3 1109.04,824.8 1109.4,822.6 1109.75,821.5 1110.1,823.3 1110.46,822.9 1110.81,835.8 1111.16,834 1111.52,830.2 1111.87,824.5 1112.23,838.5 1112.58,837.8 1112.93,846.9 1113.29,850.6 1113.65,841.3 1114.01,860.2 1114.38,852.3 1114.74,832.8 1115.1,863.2 1115.46,833.7 1115.82,861.2 1116.18,873.9 1116.52,837.6 1116.87,849.6 1117.22,837.9 1117.57,838.3 1117.91,863.3 1118.26,842.8 1118.61,844 1118.96,838.7 1119.3,844.9 1119.65,864.9 1120,861.9 1120.35,844.5 1120.69,845.6 1121.04,896.5 1121.39,847.8 1121.74,847 1122.08,853.8 1122.43,898.7 1122.78,904.4 1123.13,855.9 1123.47,871.1 1123.82,906.4 1124.17,908 1124.52,856.5 1124.86,869.4 1125.21,907.7 1125.56,861.6 1125.91,895.2 1126.26,872.7 1126.61,916.5 1126.96,864.9 1127.31,865.9 1127.66,922.4 1128.01,906 1128.36,877.1 1128.71,915.7 1129.06,872.1 1129.41,878.2 1129.76,864.9 1130.11,912.1 1130.46,924.7 1130.82,877.7 1131.17,912 1131.52,924 1131.87,911.8 1132.22,871.2 1132.57,875.9 1132.92,931.9 1133.27,898.3 1133.62,877.5 1133.97,872.5 1134.32,886.7 1134.67,910.8 1135.02,912.6 1135.37,936.6 1135.72,900 1136.07,937.6 1136.42,905.7 1136.78,939.3 1137.13,875.2 1137.48,880.1 1137.83,876 1138.18,898.2 1138.53,888.8 1138.88,942.7 1139.23,936.8 1139.58,905.5 1139.93,917.5 1140.28,880.7 1140.63,884.7 1140.98,876.3 1141.33,919 1141.68,941.8 1142.03,893.5 1142.39,909.5 1142.74,893.4 1143.09,884.2 1143.44,938.4 1143.79,928.6 1144.14,903.8 1144.49,923.6 1144.84,899.2 1145.19,944.9 1145.54,925.6 1145.89,895.8 1146.24,938.2 1146.59,873.5 1146.94,937.5 1147.29,928.2 1147.64,887.5 1148,873.3 1148.35,935.1 1148.7,913.9 1149.05,934 1149.4,879.3 1149.75,945.2 1150.1,927.7 1150.45,934.9 1150.8,892.1 1151.15,945.7 1151.5,887 1151.85,944.8 1152.2,888.5 1152.55,885 1152.9,883.9 1153.25,901.6 1153.6,942.8 1153.96,897.4 1154.31,934.3 1154.66,893.9 1155.01,930.7 1155.36,887.5 1155.71,874.4 1156.06,929.2 1156.41,916.5 1156.76,888.2 1157.11,869.8 1157.46,939 1157.81,936.2 1158.16,930.8 1158.51,887.7 1158.86,865.1 1159.21,885.3 1159.57,878.6 1159.92,946.4 1160.27,877.5 1160.62,941.4 1160.97,918.6 1161.32,941.7 1161.67,916.6 1162.02,873.7 1162.37,879.7 1162.72,878 1163.07,881.5 1163.42,880 1163.77,883.8 1164.12,925.8 1164.47,899.8 1164.82,873.4 1165.18,872.3 1165.55,880.6 1165.91,926.5 1166.27,894.9 1166.63,872.6 1166.99,871.8 1167.35,934.5 1167.71,921.2 1168.07,877.2 1168.43,888 1168.79,935.6 1169.15,880.1 1169.51,894.5 1169.87,904.9 1170.23,888.9 1170.59,873.1 1170.95,906.7 1171.31,929.8 1171.64,870.9 1171.96,875.7 1172.28,838.9 1172.61,829.8 1172.93,822.3 1173.26,815 1173.58,807.5 1173.91,820.2 1174.23,832.6 1174.55,840.7 1174.88,857.3 1175.2,871.9 1175.56,879.3 1175.92,872.2 1176.28,865.8 1176.64,879.7 1177,866.7 1177.36,876.1 1177.73,856.5 1178.09,914.8 1178.45,937.5 1178.81,863.8 1179.17,933.4 1179.53,869.5 1179.89,884.3 1180.25,920.1 1180.61,941.4 1180.97,928.2 1181.33,923.9 1181.69,905.7 1182.01,925.3 1182.34,936.7 1182.66,960.5 1182.99,966.7 1183.31,969.2 1183.64,974.9 1183.96,985.3 1184.28,993.6 1184.61,1002.8 1184.93,1012.3 1185.26,1021.7 1185.58,1030.8 1185.91,1037.2 1186.23,1043.7 1186.55,1050.1 1186.88,1056.5 1187.2,1063 1187.53,1069.4 1187.85,1060.7 1188.18,1051.9 1188.5,1043.2 1188.82,1034.5 1189.15,1025.8 1189.47,1017 1189.84,1004.9 1190.2,992.6 1190.57,980.8 1190.93,968.3 1191.3,957 1191.66,944.2 1192.03,933.2 1192.39,920.3 1192.75,917.3 1193.11,914.9 1193.47,907.7 1193.83,907.7 1194.19,900.9 1194.55,898 1194.91,894.1 1195.27,886.8 1195.63,888.6 1196,887.5 1196.36,894.4 1196.72,877.1 1197.08,877.2 1197.44,878.4 1197.8,893.7 1198.16,897.9 1198.52,882.5 1198.88,872.2 1199.23,867.9 1199.58,883.6 1199.94,899.3 1200.29,870.7 1200.64,875 1200.99,895.8 1201.35,881 1201.7,877.3 1202.05,869.2 1202.4,895.6 1202.76,875.5 1203.11,873.1 1203.46,869 1203.81,897.1 1204.17,878.5 1204.52,871.6 1204.87,882.7 1205.22,888.9 1205.58,899.8 1205.93,870.7 1206.28,870.3 1206.63,882.2 1206.99,904.7 1207.31,883.2 1207.63,901.7 1207.96,900 1208.28,893.8 1208.61,913.7 1208.93,925.9 1209.26,924.9 1209.58,937.1" fill="none" stroke="#ff0000" stroke-width="4.2" stroke-linejoin="round" stroke-linecap="round"/>
<polyline clip-path="url(#cld)" points="763.99,1234 764.69,1239.7 765.38,1236.3 766.07,1241.7 766.76,1243.8 767.45,1238.3 768.14,1244.9 768.83,1247.8 769.52,1239.8 770.21,1234.3 770.9,1257.2 771.59,1242.2 772.28,1231.4 772.97,1232.3 773.67,1248.5 774.36,1241.9 775.05,1256.1 775.74,1249.2 776.43,1230 777.12,1249.6 777.81,1257.7 778.5,1259.3 779.21,1253.2 779.91,1245.4 780.62,1256 781.32,1251.1 782.03,1241 782.73,1237.1 783.44,1226.4 784.14,1229.5 784.85,1240.5 785.55,1229.4 786.26,1231.3 786.96,1241.8 787.67,1236 788.37,1257.9 789.08,1233.4 789.78,1243.6 790.49,1242.8 791.19,1240.7 791.9,1250.9 792.6,1257.3 793.31,1252.5 794.01,1228.5 794.72,1239.2 795.43,1241 796.13,1255.7 796.84,1247.4 797.54,1239.7 798.25,1248.2 798.95,1258.3 799.66,1229.4 800.36,1258.2 801.07,1230.1 801.77,1226.2 802.48,1227.9 803.18,1253.6 803.89,1237.8 804.61,1254.2 805.34,1245.2 806.06,1226.9 806.79,1259.4 807.51,1231.2 808.24,1259.2 808.96,1256.8 809.69,1243.5 810.41,1226.2 811.14,1226.2 811.87,1233.1 812.59,1231.3 813.32,1251.5 814.04,1231.4 814.77,1241 815.49,1224 816.22,1258.2 816.94,1236.5 817.67,1216.5 818.39,1253.2 819.12,1251.1 819.84,1242.6 820.57,1256.4 821.29,1234 822.02,1261.4 822.75,1261.7 823.47,1241.4 824.2,1258.2 824.92,1229.8 825.65,1243.7 826.37,1248.2 827.1,1205.8 827.82,1246.6 828.55,1264.6 829.27,1283.5 830,1285.1 830.72,1236.9 831.45,1246.4 832.17,1210.4 832.9,1281.1 833.63,1206.2 834.35,1249.9 835.08,1240.3 835.8,1263.4 836.53,1274 837.25,1273.3 837.98,1276.4 838.7,1269.9 839.43,1211.4 840.15,1219.8 840.88,1243.1 841.6,1250.8 842.33,1262 843.05,1259.3 843.78,1254.8 844.48,1243.5 845.17,1231.2 845.87,1232.3 846.57,1253.9 847.27,1237.6 847.96,1224.6 848.66,1249.6 849.36,1245.8 850.06,1249.6 850.75,1243.1 851.45,1234.2 852.15,1263 852.85,1243.4 853.54,1244.9 854.24,1247.7 854.94,1224.3 855.64,1232.3 856.33,1238.9 857.03,1258.7 857.73,1227.1 858.43,1257.9 859.12,1245 859.82,1241.4 860.52,1248.9 861.22,1253.5 861.91,1249.8 862.64,1226.9 863.36,1254.5 864.09,1239.4 864.81,1255.5 865.54,1243.3 866.26,1258.4 866.99,1223.9 867.72,1243.8 868.44,1259.5 869.17,1236.6 869.86,1260.4 870.55,1226.1 871.24,1245.8 871.93,1216.7 872.62,1255.6 873.31,1233.1 874,1252.4 874.69,1220.4 875.38,1241.6 876.07,1246.1 876.76,1224.6 877.45,1234.4 878.15,1253 878.84,1246 879.53,1247.9 880.22,1214.5 880.91,1257.9 881.6,1243.6 882.29,1249.2 882.98,1211.6 883.67,1271.4 884.4,1212.4 885.12,1245.3 885.85,1240.9 886.57,1231.3 887.3,1217.6 888.02,1229.6 888.75,1264.7 889.47,1222.8 890.2,1241.1 890.93,1271.9 891.65,1233.4 892.38,1268.9 893.1,1218.6 893.83,1236.2 894.55,1239.5 895.28,1213.4 896,1222.8 896.73,1248.7 897.45,1240.4 898.18,1210 898.9,1231 899.63,1231.9 900.35,1241.4 901.08,1246.6 901.8,1242.5 902.53,1264.2 903.26,1263.4 903.98,1253.9 904.71,1243 905.43,1267.4 906.16,1234.6 906.88,1240.9 907.61,1222.2 908.33,1240.8 909.06,1268.3 909.78,1266.5 910.51,1234.7 911.23,1240.7 911.96,1231.4 912.68,1240.5 913.39,1251.9 914.09,1233.2 914.79,1264 915.49,1264.3 916.19,1250.7 916.9,1226.1 917.6,1221.9 918.3,1263.4 919,1263.5 919.7,1245.4 920.41,1232.4 921.11,1232 921.81,1257.2 922.51,1227.1 923.21,1241.8 923.92,1227.4 924.62,1228.6 925.32,1259.4 926.02,1260.3 926.72,1245.4 927.43,1237.8 928.13,1229.4 928.83,1222.4 929.53,1224.7 930.23,1234.1 930.93,1220.7 931.64,1234.3 932.34,1226.2 933.04,1248.7 933.74,1251.2 934.44,1266 935.14,1226.7 935.83,1258.3 936.52,1258.6 937.21,1263.2 937.9,1249.7 938.59,1258.1 939.28,1261 939.97,1217.5 940.66,1255.5 941.35,1262.7 942.04,1269.3 942.73,1249.1 943.42,1242.1 944.12,1238.3 944.81,1245.2 945.5,1239.2 946.19,1240.4 946.88,1264 947.57,1255.3 948.26,1241.9 948.95,1255.3 949.64,1212.9 950.33,1259.3 951.02,1244.3 951.71,1238.4 952.4,1280.2 953.1,1229.8 953.79,1228.9 954.48,1280 955.17,1260.6 955.86,1231.4 956.55,1259.1 957.24,1273.1 957.93,1251.3 958.62,1232.5 959.31,1232.9 960,1246.9 960.69,1243.4 961.38,1284.6 962.08,1240.8 962.77,1260.1 963.46,1237.6 964.14,1212.6 964.83,1215.6 965.51,1284.6 966.2,1245.9 966.88,1263.2 967.57,1244.4 968.25,1228.2 968.94,1244 969.62,1261.4 970.3,1253.1 970.97,1248.4 971.64,1248.7 972.32,1244.4 972.99,1267.3 973.66,1223.5 974.34,1233.8 975.06,1218 975.79,1262 976.51,1235.1 977.24,1254.4 977.96,1217.4 978.69,1253.4 979.41,1223.7 980.14,1236.4 980.86,1238.2 981.59,1243.7 982.32,1256.1 983.04,1262 983.77,1251.7 984.49,1247.5 985.22,1260.6 985.91,1239 986.61,1238 987.31,1224.1 988.01,1242.7 988.7,1253.7 989.4,1224.9 990.1,1243.1 990.8,1247.8 991.49,1241.5 992.19,1234.5 992.89,1259.3 993.59,1251.8 994.28,1225 994.98,1235.6 995.68,1242.5 996.38,1240.4 997.07,1247.1 997.77,1237.9 998.47,1235 999.16,1233.9 999.86,1240.7 1000.56,1254.1 1001.26,1243 1001.95,1234.4 1002.65,1242.1 1003.35,1232.4 1004.05,1234.1 1004.74,1243.6 1005.44,1255 1006.14,1252.9 1006.84,1257.5 1007.53,1256.5 1008.23,1237 1008.93,1226.7 1009.63,1256.3 1010.32,1256.6 1011.02,1229.6 1011.72,1234 1012.42,1236.8 1013.11,1252.8 1013.81,1236.3 1014.51,1231.3 1015.21,1260.4 1015.9,1232.1 1016.6,1253.9 1017.3,1260.3 1018,1241.7 1018.69,1240.3 1019.39,1229.4 1020.09,1241.1 1020.78,1252.5 1021.48,1235.6 1022.21,1228.4 1022.93,1250.6 1023.66,1256 1024.38,1228.9 1025.11,1252.4 1025.83,1239.2 1026.56,1238.2 1027.28,1234.6 1028.01,1223 1028.74,1282.1 1029.46,1247.4 1030.19,1249.8 1030.91,1268.2 1031.64,1250.6 1032.36,1222.1 1033.07,1232.4 1033.77,1224.5 1034.48,1220.9 1035.18,1225.4 1035.89,1250.7 1036.59,1249 1037.3,1238.6 1038,1265.1 1038.71,1222.3 1039.41,1244.1 1040.12,1266.6 1040.82,1263 1041.53,1259.3 1042.23,1250.3 1042.94,1250.6 1043.64,1259.1 1044.35,1226 1045.06,1243.1 1045.76,1241.7 1046.47,1262.2 1047.17,1265.3 1047.88,1262.9 1048.58,1253.9 1049.29,1233 1049.99,1233.4 1050.7,1245.4 1051.4,1223.1 1052.11,1223.5 1052.81,1263.8 1053.52,1236.7 1054.22,1244.2 1054.93,1263.3 1055.63,1232.1 1056.34,1251.7 1057.04,1245.5 1057.75,1250.9 1058.45,1253.9 1059.14,1256 1059.84,1251.7 1060.54,1234.3 1061.24,1267.1 1061.93,1229.7 1062.63,1242.1 1063.33,1264 1064.03,1260.7 1064.72,1237.7 1065.42,1228.6 1066.12,1227.6 1066.81,1260.8 1067.51,1261 1068.21,1266.6 1068.91,1237.8 1069.6,1255.4 1070.3,1242.6 1071,1244 1071.7,1221.8 1072.39,1249.7 1073.09,1229.5 1073.79,1266.5 1074.49,1231.5 1075.18,1256.4 1075.88,1211.9 1076.58,1258 1077.28,1268.2 1077.97,1248 1078.67,1266.1 1079.37,1242 1080.07,1242.6 1080.76,1269.3 1081.46,1226.2 1082.16,1220.7 1082.86,1258.4 1083.55,1227.1 1084.25,1263.7 1084.95,1249 1085.65,1261.6 1086.34,1255.5 1087.04,1245.2 1087.74,1249 1088.43,1253 1089.13,1251 1089.83,1222.8 1090.53,1229.9 1091.22,1240.4 1091.92,1254 1092.62,1238.8 1093.32,1238.2 1094.01,1244.7 1094.72,1232.6 1095.42,1217.8 1096.12,1217.1 1096.82,1234 1097.52,1246.2 1098.23,1244.3 1098.93,1235.1 1099.63,1218.7 1100.33,1246.8 1101.03,1256.2 1101.74,1248.2 1102.44,1259.8 1103.14,1214.9 1103.84,1212.6 1104.54,1225.5 1105.24,1253.5 1105.95,1246.5 1106.65,1246.8 1107.35,1208.5 1108.05,1214 1108.75,1226.7 1109.46,1233.5 1110.16,1212 1110.86,1277 1111.56,1271.4 1112.26,1208.1 1112.97,1272.4 1113.67,1254 1114.37,1251.4 1115.07,1240 1115.77,1212.8 1116.5,1265.4 1117.22,1228.9 1117.95,1233.2 1118.67,1224.1 1119.4,1231 1120.13,1225.2 1120.85,1247 1121.58,1223.1 1122.3,1259.9 1123.03,1265.6 1123.75,1242.8 1124.48,1229.5 1125.2,1248.5 1125.93,1263 1126.65,1249.1 1127.38,1242.2 1128.1,1248.6 1128.83,1244.5 1129.55,1260.4 1130.28,1229.8 1130.98,1258.9 1131.67,1241.2 1132.37,1256.4 1133.07,1238.7 1133.77,1249.3 1134.46,1233 1135.16,1243.9 1135.86,1245 1136.56,1241.7 1137.25,1244.1 1137.95,1229.2 1138.65,1257.4 1139.35,1254.3 1140.04,1247.7 1140.74,1251.9 1141.44,1243.7 1142.14,1247.7 1142.83,1260.2 1143.53,1247.5 1144.23,1226.6 1144.93,1233 1145.62,1231.1 1146.32,1256.4 1147.02,1242.7 1147.72,1244.7 1148.41,1241.7 1149.11,1229.8 1149.81,1241.4 1150.51,1249.5 1151.2,1261 1151.9,1243.2 1152.6,1260.5 1153.29,1243.2 1153.99,1237.6 1154.69,1264.5 1155.39,1235.7 1156.08,1256.4 1156.78,1230.2 1157.48,1250.9 1158.18,1244.7 1158.87,1258.9 1159.57,1229.1 1160.27,1227.3 1160.97,1246.6 1161.66,1229.4 1162.36,1231.3 1163.06,1234.9 1163.76,1254.5 1164.45,1231.9 1165.15,1249.1 1165.85,1248.1 1166.55,1249.4 1167.24,1244.1 1167.94,1239.8 1168.64,1246.7 1169.34,1238.7 1170.03,1260.7 1170.73,1229.1 1171.43,1258.1 1172.13,1240.4 1172.82,1254.1 1173.52,1255.3 1174.22,1262.4 1174.91,1224.7 1175.61,1229.6 1176.31,1252.3 1177.01,1239 1177.7,1254.3 1178.4,1250.5 1179.1,1252.6 1179.8,1262.8 1180.49,1223.4 1181.19,1226.6 1181.89,1264 1182.59,1252.5 1183.28,1251.1 1183.98,1223.9 1184.68,1256.4 1185.37,1251.4 1186.06,1243.3 1186.75,1264.4 1187.44,1221 1188.13,1238.9 1188.82,1255.1 1189.51,1242.1 1190.21,1267.5 1190.9,1231.9 1191.59,1263.3 1192.28,1249.5 1192.97,1250.1 1193.66,1271.7 1194.35,1267.1 1195.04,1227.5 1195.73,1267.6 1196.42,1220.2 1197.11,1249.2 1197.8,1219.1 1198.49,1238.2 1199.19,1268.5 1199.91,1256.4 1200.64,1258.7 1201.36,1223.5 1202.09,1282.5 1202.81,1267.6 1203.54,1261.3 1204.26,1241.3 1204.99,1219.1 1205.71,1183.6 1206.26,1178.3 1206.8,1173.8 1207.53,1254.1 1208.25,1305.2 1208.8,1313.4 1209.34,1320.6 1210.06,1297.8 1210.79,1275" fill="none" stroke="#008000" stroke-width="3.9" stroke-linejoin="round" stroke-linecap="round"/>
</g>
<g transform="scale(0.85,1)">
<path d="M763.76 1320.1V1333.7M819.5 1320.1V1327.7M875.24 1320.1V1333.7M930.97 1320.1V1327.7M986.71 1320.1V1333.7M1042.44 1320.1V1327.7M1098.18 1320.1V1333.7M1153.91 1320.1V1327.7M1209.65 1320.1V1333.7" stroke="#000" stroke-width="4.3" fill="none" stroke-linecap="round"/>
</g>
<text transform="translate(649.2,1364.8) scale(0.900,1)" font-size="29.5" text-anchor="middle" fill="#000">0.0</text>
<text transform="translate(744,1364.8) scale(0.900,1)" font-size="29.5" text-anchor="middle" fill="#000">2.5</text>
<text transform="translate(838.7,1364.8) scale(0.900,1)" font-size="29.5" text-anchor="middle" fill="#000">5.0</text>
<text transform="translate(933.5,1364.8) scale(0.900,1)" font-size="29.5" text-anchor="middle" fill="#000">7.5</text>
<text transform="translate(1028.2,1364.8) scale(0.900,1)" font-size="29.5" text-anchor="middle" fill="#000">10.0</text>
<text transform="translate(838.7,1421.7) scale(0.885,1)" font-size="31.9" text-anchor="middle" fill="#000">time (s)</text>
<text transform="translate(777.3,1477.6)" font-size="38.5" text-anchor="start" fill="#000" font-style="italic" textLength="126.4" lengthAdjust="spacingAndGlyphs">His-tag</text>
<text transform="translate(669.5,652.4)" font-size="53.5" text-anchor="start" fill="#000" font-weight="bold">d</text>
<text transform="translate(622.1,1013.7) rotate(-90) scale(0.934,1)" font-size="36" text-anchor="middle" fill="#000">Photoresponse</text>
<text transform="translate(599,764.7) rotate(-90) scale(0.950,1)" font-size="40" text-anchor="middle" fill="#000">50μV</text>
<path d="M625.6 725.8V804.2" stroke="#4472c4" stroke-width="6.9" fill="none"/>
<polygon points="625.6,707.8 615.2,728.4 636,728.4" fill="#4472c4"/>
<polygon points="625.6,822.2 615.2,801.6 636,801.6" fill="#4472c4"/>
<text transform="translate(789.5,718.7)" font-size="40" text-anchor="start" fill="#000" font-style="italic">on</text>
<text transform="translate(841,795.7)" font-size="40" text-anchor="start" fill="#000" font-style="italic">off</text>
<defs><clipPath id="cle"><rect x="1375.53" y="677.5" width="451.76" height="642.9"/></clipPath></defs>
<g transform="scale(0.85,1)">
<rect x="1375.53" y="677.5" width="450.35" height="641.9" fill="none" stroke="#000" stroke-width="5" stroke-linejoin="round"/>
<path d="M1375.53 819.3H1386.71V736.3H1409.41V819.3H1513.88V736.3H1533.53V819.3H1644V736.3H1665.88V819.3H1754.47V736.3H1775.29V819.3H1825.88" stroke="#808000" stroke-width="2.95" fill="none" stroke-linejoin="miter"/>
<path d="M1375.53 1202.8H1470.47V1119.5H1490.12V1202.8H1623.29V1119.5H1642.12V1202.8H1745.06V1119.5H1759.76V1202.8H1825.88" stroke="#808000" stroke-width="2.95" fill="none" stroke-linejoin="miter"/>
<polyline clip-path="url(#cle)" points="1376.12,932.2 1377.19,934.6 1378.25,935 1379.31,937.5 1380.38,931.8 1381.44,934.7 1382.5,916.1 1383.56,924.1 1384.63,931.7 1385.69,926 1386.92,901.8 1388.16,868.6 1389.39,844.9 1390.63,820.3 1391.86,796.5 1393.1,772.3 1394.1,803.1 1395.1,834.5 1396.1,865.8 1397.11,897.9 1398.11,925.7 1399.11,952.4 1400.12,981.8 1401.12,1007.8 1402.15,1006.2 1403.18,1001.6 1404.21,998.2 1405.23,993.7 1406.26,985 1407.29,978.2 1408.22,1010.9 1409.14,1042.1 1410.07,1076.8 1410.99,1112.8 1412.23,1070.5 1413.46,1028.8 1414.39,993 1415.31,959.7 1416.24,924.2 1417.37,894.2 1418.5,863 1419.63,829.7 1420.87,834.6 1422.1,838.1 1423.34,842.4 1424.49,840.4 1425.65,840.4 1426.81,840.6 1427.97,835.7 1429.12,849.3 1430.28,855.7 1431.44,864.4 1432.6,881.4 1433.7,879.8 1434.8,880.8 1435.9,887.3 1437,894.9 1438.11,887.3 1439.21,907.5 1440.31,893.8 1441.39,908.7 1442.47,911.9 1443.55,897.2 1444.63,913.6 1445.71,906.5 1446.79,912.1 1447.87,901.7 1448.95,903.6 1450.03,907.7 1451.11,925.5 1452.14,910.7 1453.17,924.4 1454.2,929.9 1455.23,931.8 1456.25,919.9 1457.28,921.6 1458.31,927 1459.34,934.4 1460.37,920.2 1461.4,937 1462.43,939.7 1463.45,942.9 1464.56,922.3 1465.66,943.1 1466.76,922.4 1467.86,927.5 1468.96,932.8 1470.07,938.8 1471.17,925.4 1472.2,925 1473.23,908.3 1474.25,896.6 1475.8,863.9 1477.34,961.4 1478.42,912.6 1479.5,863.8 1480.74,886.7 1481.97,911.4 1483,915 1484.03,923.1 1485.06,947 1486.08,942.5 1487.11,943.3 1488.14,943.8 1489.17,945.9 1490.2,947.2 1491.23,938.6 1492.26,935.2 1493.28,924.8 1494.31,940.8 1495.34,917.6 1496.37,926.1 1497.4,932.8 1498.43,913.1 1499.46,928.4 1500.48,933.3 1501.51,924.3 1502.54,927.5 1503.57,910.1 1504.6,917.5 1505.63,910.2 1506.66,925.6 1507.69,912.4 1508.71,915.4 1509.74,926.5 1510.9,917.4 1512.06,913.4 1513.21,901.5 1514.37,897.3 1515.3,865.5 1516.22,831.8 1517.15,801.8 1518.07,772.2 1519,808.2 1519.93,844.8 1520.85,880.6 1521.78,915.6 1522.7,950.1 1523.94,980 1525.17,1009.7 1526.41,1001.9 1527.64,995.5 1528.87,990 1529.9,984 1530.93,976.6 1531.96,971.4 1532.99,990.5 1534.02,1009.6 1535.05,1028.7 1536.28,1051.1 1537.52,1073 1538.75,1037.9 1539.98,1002 1541.01,976 1542.04,950.5 1543.07,924.2 1544.3,899.2 1545.54,878.4 1546.77,853.6 1547.93,854.6 1549.09,852.4 1550.24,857 1551.4,856.3 1552.56,865.4 1553.72,869.5 1554.87,879.3 1556.03,883.5 1557.06,890.1 1558.09,888.1 1559.12,897 1560.15,903.1 1561.17,909.3 1562.2,905.1 1563.23,917 1564.26,920.4 1565.29,919.5 1566.32,928.1 1567.35,930.6 1568.37,924 1569.4,925.4 1570.43,918.3 1571.46,935 1572.49,938.8 1573.52,928.9 1574.55,935.5 1575.57,937.5 1576.6,939.1 1577.63,925.2 1578.66,941.8 1579.69,936.4 1580.72,938.8 1581.75,931.8 1582.77,937.7 1583.8,942.1 1584.83,938.1 1585.86,940.7 1586.89,919.9 1587.82,943.9 1588.74,964.2 1589.67,949.5 1590.59,925.4 1591.7,934.2 1592.81,931.6 1593.93,914.5 1595.04,924.4 1596.15,915.4 1597.18,910.2 1598.2,912.6 1599.23,918.1 1600.26,914 1601.29,914.4 1602.32,909.6 1603.35,922.6 1604.38,920 1605.4,927 1606.43,926.3 1607.46,915.7 1608.49,935.8 1609.52,908.6 1610.55,920.8 1611.58,916.9 1612.61,920.7 1613.63,911.7 1614.66,933.1 1615.69,919.1 1616.72,908.8 1617.75,926 1618.78,910.2 1619.81,923.6 1620.83,917.2 1621.86,924.3 1622.89,935.5 1623.92,931.1 1624.95,918.9 1625.98,930.6 1627.01,925.3 1628.07,916.9 1629.14,909.8 1630.21,923.3 1631.28,922.1 1632.35,933.8 1633.42,933.9 1634.48,922.8 1635.55,914.9 1636.62,931 1637.69,903.9 1638.76,907 1639.82,920.5 1640.89,921.8 1641.92,903.3 1642.95,906.3 1643.98,900.1 1645.06,870.6 1646.14,844.8 1647.06,823.3 1647.99,802.3 1649.07,837.4 1650.15,870.9 1651.18,902.8 1652.21,933.4 1653.24,963.2 1654.26,977.7 1655.29,994.3 1656.32,1008.9 1657.48,1000.5 1658.64,992 1659.79,985.9 1660.95,976 1662.06,965 1663.17,955.3 1664.28,944.3 1665.39,934.9 1666.51,924.4 1667.43,950 1668.36,976.6 1669.28,1003.4 1670.21,1029.5 1671.29,996.4 1672.37,962.5 1673.6,931.7 1674.84,898.9 1675.99,887.7 1677.15,879.5 1678.31,870 1679.47,872.2 1680.58,861.7 1681.69,863.4 1682.8,860.2 1683.91,859.7 1685.02,857.5 1686.25,867.5 1687.49,868.4 1688.72,885.7 1689.83,882.6 1690.93,890.4 1692.03,891.2 1693.13,894.6 1694.23,902.8 1695.34,905.7 1696.44,907.9 1697.54,918.6 1698.64,919.1 1699.74,910.8 1700.85,918.6 1701.95,926.3 1703.05,940.5 1704.15,943.6 1705.18,934.5 1706.21,920.7 1707.24,938.9 1708.27,929.5 1709.3,932.5 1710.32,935.2 1711.35,932.6 1712.38,928 1713.41,938.6 1714.44,924.1 1715.47,923.5 1716.5,935.1 1717.53,916.9 1718.55,918.8 1719.58,932.6 1720.82,906.4 1722.05,913.2 1723.13,912.6 1724.21,909.8 1725.29,908.6 1726.37,919.2 1727.45,923.5 1728.53,909.9 1729.61,918.1 1730.69,921.2 1731.77,921.6 1732.85,919.3 1733.93,916.5 1735.01,928.3 1736.04,933.4 1737.07,915.2 1738.1,918.8 1739.13,932.4 1740.15,931.3 1741.18,927.9 1742.21,912.9 1743.24,928.5 1744.27,933.9 1745.3,933.9 1746.33,926.9 1747.36,912.1 1748.38,929.2 1749.41,915.3 1750.44,924.1 1751.47,920.7 1752.5,907.8 1753.53,894.8 1754.45,872.8 1755.38,850.9 1756.3,834.4 1757.23,819.6 1758.16,847.8 1759.08,875.8 1760.11,899.4 1761.14,920.7 1762.17,943.4 1763.2,954.7 1764.22,964.3 1765.25,974.7 1766.49,972 1767.72,968.2 1768.96,964.5 1770.11,949.8 1771.27,938.9 1772.43,926.9 1773.59,915.3 1774.51,935.5 1775.44,956.3 1776.36,975.9 1777.6,1002.5 1778.83,1030 1779.91,996.1 1780.99,963.1 1782.23,930.2 1783.46,899.1 1784.59,889.3 1785.72,881.4 1786.85,871.2 1787.9,874.6 1788.95,874.4 1790,880 1791.05,880 1792.1,878 1793.26,880.1 1794.42,882.8 1795.57,888.4 1796.73,882.8 1797.76,895 1798.79,899.5 1799.82,896.7 1800.84,910.3 1801.87,906.9 1802.9,912.5 1803.93,922.2 1804.96,919.6 1805.99,930.4 1807.02,927.7 1808.04,928.5 1809.07,935.7 1810.1,925.5 1811.13,933 1812.16,920.5 1813.19,919.8 1814.22,935.1 1815.24,928 1816.27,921 1817.3,923.1 1818.33,942.2 1819.36,940 1820.39,945.1 1821.42,941 1822.65,938.4 1823.89,926.3 1825.12,915.3" fill="none" stroke="#ff0000" stroke-width="4.6" stroke-linejoin="round" stroke-linecap="round"/>
<polyline clip-path="url(#cle)" points="1376.19,1222.6 1377.17,1236.9 1378.16,1244.6 1379.14,1256 1380.12,1263.8 1381.1,1283.2 1382.17,1277.2 1383.23,1275.4 1384.3,1267.1 1385.37,1268.4 1386.44,1260.7 1387.51,1257.8 1388.59,1256.2 1389.66,1256.9 1390.74,1251.3 1391.82,1246.3 1392.9,1244.2 1393.97,1244.9 1395.05,1241.5 1396.13,1252.3 1397.21,1247.8 1398.29,1251.6 1399.36,1242.9 1400.44,1249 1401.52,1254.6 1402.6,1251.7 1403.67,1249.9 1404.75,1250.8 1405.83,1246.8 1406.91,1247.9 1407.98,1248.5 1409.06,1251.5 1410.14,1252.1 1411.17,1257.2 1412.2,1247.5 1413.23,1247.9 1414.25,1247.3 1415.28,1245 1416.31,1245.7 1417.34,1244.2 1418.37,1246.3 1419.4,1240 1420.43,1249.9 1421.45,1242.3 1422.59,1246.6 1423.72,1241 1424.85,1238.3 1425.98,1233.3 1427.11,1236.5 1428.24,1232.2 1429.37,1244.6 1430.51,1245.8 1431.64,1256.3 1432.77,1262.7 1433.84,1260.1 1434.91,1264.8 1435.97,1267 1437.04,1273.7 1438.11,1276.2 1439.18,1284.4 1440.31,1286.5 1441.44,1274.3 1442.58,1268.9 1443.71,1265.9 1444.84,1258.9 1445.97,1259.5 1447.1,1254.5 1448.23,1243 1449.36,1239.1 1450.5,1239.6 1451.63,1238 1452.76,1239.2 1453.89,1241.4 1455.02,1252.8 1456.15,1245.9 1457.28,1251.4 1458.36,1258.7 1459.44,1252.9 1460.52,1247.1 1461.6,1251.8 1462.67,1255.8 1463.75,1248.7 1464.83,1245.3 1465.96,1239.6 1467.09,1236.8 1468.22,1244.2 1469.35,1236.7 1470.49,1239.5 1471.43,1222.9 1472.37,1219.1 1473.31,1210.8 1474.26,1209 1475.2,1212.5 1476.14,1222.5 1477.09,1231.9 1478.03,1238.3 1479.11,1238 1480.18,1240.6 1481.26,1254.6 1482.34,1247.8 1483.42,1254.5 1484.49,1256 1485.57,1260.3 1486.65,1259.5 1487.73,1266.8 1488.8,1268.9 1489.88,1278.7 1490.96,1287.9 1492.04,1288.6 1493.12,1296.3 1494.19,1283 1495.27,1275.1 1496.35,1276 1497.43,1269.8 1498.5,1265.4 1499.58,1257.5 1500.66,1255 1501.74,1253.9 1502.81,1253.9 1503.89,1244.3 1504.97,1243.7 1506.05,1246 1507.12,1236.4 1508.2,1232.8 1509.28,1238.9 1510.36,1239.8 1511.43,1251.8 1512.51,1256 1513.59,1253.5 1514.67,1255 1515.75,1258.1 1516.82,1257.1 1517.9,1252.1 1518.98,1253.3 1520.06,1252.1 1521.13,1245.2 1522.21,1239.9 1523.29,1244.7 1524.37,1236.1 1525.44,1237.3 1526.52,1237.6 1527.6,1238 1528.68,1234 1529.75,1237.2 1530.83,1235.2 1531.86,1241.1 1532.89,1239.3 1533.92,1244 1534.95,1241.7 1535.98,1243.5 1537,1241.9 1538.03,1240.9 1539.06,1246 1540.09,1244.6 1541.12,1248.8 1542.15,1246.6 1543.18,1246.3 1544.2,1241.1 1545.23,1247.7 1546.26,1242.5 1547.29,1239.4 1548.32,1238.6 1549.35,1239.9 1550.38,1241 1551.4,1246 1552.43,1241.3 1553.46,1238.6 1554.59,1249 1555.72,1248.4 1556.86,1243.9 1557.99,1246.1 1559.12,1249 1560.17,1250.7 1561.21,1255.7 1562.26,1255.7 1563.31,1250.6 1564.36,1244.9 1565.41,1246.2 1566.45,1244.4 1567.5,1242.9 1568.55,1238 1569.68,1243.6 1570.81,1245.2 1571.94,1242.6 1573.07,1233.6 1574.21,1237.6 1575.34,1231.9 1576.41,1242.9 1577.47,1244.3 1578.54,1254.8 1579.61,1257.6 1580.68,1254 1581.75,1260.9 1582.8,1268.5 1583.84,1263.4 1584.89,1263.4 1585.94,1263.8 1586.99,1268.1 1588.04,1270.5 1589.08,1266 1590.13,1271.7 1591.18,1267.5 1592.26,1260.2 1593.33,1267.4 1594.41,1261.2 1595.49,1255.4 1596.57,1265.2 1597.64,1252.4 1598.72,1257.6 1599.85,1253 1600.98,1254.3 1602.12,1244.8 1603.25,1239.2 1604.38,1236.4 1605.51,1238.3 1606.64,1245.6 1607.77,1246 1608.9,1253.7 1610.04,1250.4 1611.11,1251.2 1612.19,1249.5 1613.27,1258 1614.35,1255.8 1615.42,1255.4 1616.5,1252.2 1617.58,1249.1 1618.71,1242.2 1619.84,1246.8 1620.97,1239 1622.11,1229.7 1623.24,1227.6 1624.37,1223 1625.5,1229.3 1626.63,1230.3 1627.76,1220.6 1628.89,1226.6 1630.03,1224.4 1631.16,1232.3 1632.29,1238 1633.42,1238.6 1634.55,1244.3 1635.63,1244.2 1636.71,1244.8 1637.79,1255.9 1638.86,1261.9 1639.94,1262 1641.02,1269.6 1642.1,1273.7 1643.23,1269.9 1644.36,1273 1645.49,1273.6 1646.62,1274.4 1647.75,1276.8 1648.83,1268.8 1649.91,1271.5 1650.99,1265.1 1652.06,1262.1 1653.14,1254.9 1654.22,1250.3 1655.3,1244.3 1656.32,1246 1657.35,1239.3 1658.38,1240.6 1659.41,1240.2 1660.44,1236.9 1661.47,1232.5 1662.5,1228.6 1663.53,1227.2 1664.55,1229 1665.58,1230.3 1666.61,1231 1667.69,1235.7 1668.77,1236 1669.84,1248.8 1670.92,1246.2 1672,1256.8 1673.08,1254.3 1674.15,1267.8 1675.29,1262.6 1676.42,1261.9 1677.55,1257 1678.68,1250.3 1679.81,1248 1680.94,1243.6 1682.07,1238.8 1683.21,1230.7 1684.34,1231.3 1685.47,1232.6 1686.6,1229.2 1687.73,1242.6 1688.86,1241.9 1690,1244.5 1691.13,1244.3 1692.26,1245.8 1693.39,1240 1694.52,1242.5 1695.65,1242.3 1696.78,1239.2 1697.86,1237.9 1698.94,1237.5 1700.02,1236.4 1701.09,1245.7 1702.17,1246.4 1703.25,1250.6 1704.33,1248.8 1705.41,1256.8 1706.48,1250.5 1707.56,1253.4 1708.64,1254.8 1709.72,1260.9 1710.79,1266.1 1711.87,1259.1 1712.95,1262.4 1714.03,1261.8 1715.1,1252.9 1716.18,1248.7 1717.26,1252.5 1718.34,1253.4 1719.41,1251.7 1720.46,1249 1721.51,1244.3 1722.56,1243.5 1723.6,1243.9 1724.65,1247.5 1725.7,1239.4 1726.75,1238.2 1727.8,1241.2 1728.84,1244.7 1729.89,1236.9 1730.94,1236.6 1731.99,1239.2 1733.03,1246.2 1734.08,1248.3 1735.13,1244.9 1736.18,1246.5 1737.22,1253 1738.27,1255.3 1739.4,1253.2 1740.54,1251.1 1741.67,1240.5 1742.8,1243.1 1743.93,1244.7 1744.91,1242.7 1745.89,1231.4 1746.87,1234.3 1747.85,1228.3 1748.83,1228.2 1749.9,1223.8 1750.97,1233.4 1752.04,1239.2 1753.11,1238.8 1754.18,1238.2 1755.24,1243.4 1756.32,1248 1757.4,1252.2 1758.48,1258 1759.56,1268.6 1760.63,1267.5 1761.71,1280.4 1762.79,1285.2 1763.87,1281.6 1764.94,1276.9 1766.02,1271.2 1767.1,1269.2 1768.18,1265 1769.25,1256.4 1770.33,1255.9 1771.38,1244.8 1772.43,1244.1 1773.47,1242.9 1774.52,1243.9 1775.57,1245.2 1776.62,1245.5 1777.67,1247.5 1778.71,1247.5 1779.76,1238.8 1780.79,1242.6 1781.82,1244.1 1782.85,1241.9 1783.88,1238.7 1784.9,1244.3 1785.93,1241.5 1786.96,1245.1 1787.99,1242.7 1789.02,1248.2 1790.05,1247.8 1791.08,1237.1 1792.1,1246.2 1793.13,1246.4 1794.16,1242 1795.19,1240.6 1796.22,1245.7 1797.25,1244.9 1798.28,1250.3 1799.3,1253.2 1800.33,1247.4 1801.36,1247 1802.39,1250.3 1803.42,1252.1 1804.45,1252.6 1805.48,1249.5 1806.5,1245.5 1807.53,1245.4 1808.56,1251 1809.59,1246.4 1810.62,1240.2 1811.65,1244.1 1812.68,1241.3 1813.71,1245.9 1814.84,1242.9 1815.97,1249.4 1817.1,1251.5 1818.23,1260.3 1819.36,1270.6 1820.49,1260.4 1821.63,1253.7 1822.76,1255.5 1823.89,1240.5 1825.02,1238.9" fill="none" stroke="#008000" stroke-width="5" stroke-linejoin="round" stroke-linecap="round"/>
</g>
<g transform="scale(0.85,1)">
<path d="M1375.53 1319.4V1333M1431.82 1319.4V1327M1488.12 1319.4V1333M1544.41 1319.4V1327M1600.71 1319.4V1333M1657 1319.4V1327M1713.29 1319.4V1333M1769.59 1319.4V1327M1825.88 1319.4V1333" stroke="#000" stroke-width="4.3" fill="none" stroke-linecap="round"/>
</g>
<text transform="translate(1169.2,1364.5) scale(0.900,1)" font-size="29.5" text-anchor="middle" fill="#000">0.0</text>
<text transform="translate(1264.9,1364.5) scale(0.900,1)" font-size="29.5" text-anchor="middle" fill="#000">2.5</text>
<text transform="translate(1360.6,1364.5) scale(0.900,1)" font-size="29.5" text-anchor="middle" fill="#000">5.0</text>
<text transform="translate(1456.3,1364.5) scale(0.900,1)" font-size="29.5" text-anchor="middle" fill="#000">7.5</text>
<text transform="translate(1552,1364.5) scale(0.900,1)" font-size="29.5" text-anchor="middle" fill="#000">10.0</text>
<text transform="translate(1360.6,1422.1) scale(0.885,1)" font-size="35.8" text-anchor="middle" fill="#000">time (s)</text>
<text transform="translate(1292.2,1476.3)" font-size="38.5" text-anchor="start" fill="#000" font-style="italic" textLength="124.4" lengthAdjust="spacingAndGlyphs">HA-tag</text>
<text transform="translate(1188.5,649.7)" font-size="53.5" text-anchor="start" fill="#000" font-weight="bold">e</text>
<text transform="translate(1141.3,1013.7) rotate(-90) scale(0.934,1)" font-size="36" text-anchor="middle" fill="#000">Photoresponse</text>
<text transform="translate(1113.6,759.9) rotate(-90) scale(0.950,1)" font-size="40" text-anchor="middle" fill="#000">50μV</text>
<path d="M1140.3 721.6V799.7" stroke="#4472c4" stroke-width="6.9" fill="none"/>
<polygon points="1140.3,703.6 1129.9,724.2 1150.7,724.2" fill="#4472c4"/>
<polygon points="1140.3,817.7 1129.9,797.1 1150.7,797.1" fill="#4472c4"/>
<text transform="translate(1272,719.3)" font-size="40" text-anchor="start" fill="#000" font-style="italic">on</text>
<text transform="translate(1323.5,795.6)" font-size="40" text-anchor="start" fill="#000" font-style="italic">off</text>
</svg></body></html>
